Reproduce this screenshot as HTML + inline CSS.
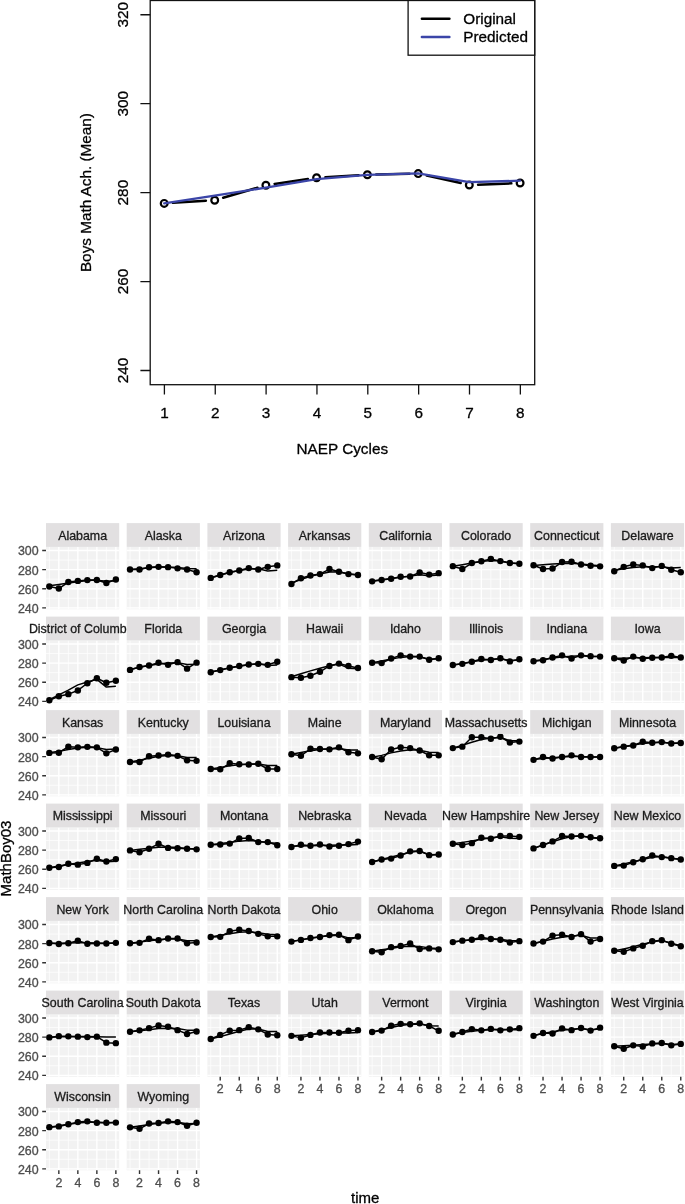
<!DOCTYPE html>
<html lang="en"><head><meta charset="utf-8"><title>NAEP Boys Math Achievement</title>
<style>html,body{margin:0;padding:0;background:#fff}svg{display:block}text{font-family:"Liberation Sans","Helvetica","Arial",sans-serif;paint-order:stroke;stroke-width:.3px;stroke-linejoin:round}</style>
</head><body>
<svg width="685" height="1204" viewBox="0 0 685 1204">
<rect width="685" height="1204" fill="#fff"/>
<g id="top-plot">
<path d="M172.98 202.84L205.92 200.76M223.15 197.73L257.45 187.67M274.61 183.91L307.89 178.99M325.39 177.2L358.61 175.3M376.2 174.59L409.4 173.81M426.79 175.52L460.71 183.08M478.09 184.65L511.31 183.35" fill="none" stroke="#000" stroke-width="2.5" stroke-linecap="round"/>
<circle cx="164.2" cy="203.4" r="3.4" fill="none" stroke="#000" stroke-width="2.2"/>
<circle cx="214.7" cy="200.2" r="3.4" fill="none" stroke="#000" stroke-width="2.2"/>
<circle cx="265.9" cy="185.2" r="3.4" fill="none" stroke="#000" stroke-width="2.2"/>
<circle cx="316.6" cy="177.7" r="3.4" fill="none" stroke="#000" stroke-width="2.2"/>
<circle cx="367.4" cy="174.8" r="3.4" fill="none" stroke="#000" stroke-width="2.2"/>
<circle cx="418.2" cy="173.6" r="3.4" fill="none" stroke="#000" stroke-width="2.2"/>
<circle cx="469.3" cy="185" r="3.4" fill="none" stroke="#000" stroke-width="2.2"/>
<circle cx="520.1" cy="183" r="3.4" fill="none" stroke="#000" stroke-width="2.2"/>
<polyline points="164.2,203.4 214.7,195.7 265.9,187.6 316.6,179.2 367.4,174.8 418.2,173.4 469.3,182.1 520.1,180.7" fill="none" stroke="#3b45a8" stroke-width="2.3" stroke-linecap="round" stroke-linejoin="round"/>
<rect x="150.2" y="0.5" width="384.5" height="384.2" fill="none" stroke="#111" stroke-width="1.3"/>
<path d="M150.2 370.5H140.4M150.2 281.56H140.4M150.2 192.62H140.4M150.2 103.68H140.4M150.2 14.74H140.4M164.4 384.7V394.5M215.25 384.7V394.5M266.1 384.7V394.5M316.95 384.7V394.5M367.8 384.7V394.5M418.65 384.7V394.5M469.5 384.7V394.5M520.35 384.7V394.5" fill="none" stroke="#111" stroke-width="1.3"/>
<text transform="translate(128.1 370.5) rotate(-90)" font-size="15.3" text-anchor="middle" fill="#000" stroke="#000">240</text>
<text transform="translate(128.1 281.56) rotate(-90)" font-size="15.3" text-anchor="middle" fill="#000" stroke="#000">260</text>
<text transform="translate(128.1 192.62) rotate(-90)" font-size="15.3" text-anchor="middle" fill="#000" stroke="#000">280</text>
<text transform="translate(128.1 103.68) rotate(-90)" font-size="15.3" text-anchor="middle" fill="#000" stroke="#000">300</text>
<text transform="translate(128.1 14.74) rotate(-90)" font-size="15.3" text-anchor="middle" fill="#000" stroke="#000">320</text>
<text x="164.4" y="417.8" font-size="15.3" text-anchor="middle" fill="#000" stroke="#000">1</text>
<text x="215.25" y="417.8" font-size="15.3" text-anchor="middle" fill="#000" stroke="#000">2</text>
<text x="266.1" y="417.8" font-size="15.3" text-anchor="middle" fill="#000" stroke="#000">3</text>
<text x="316.95" y="417.8" font-size="15.3" text-anchor="middle" fill="#000" stroke="#000">4</text>
<text x="367.8" y="417.8" font-size="15.3" text-anchor="middle" fill="#000" stroke="#000">5</text>
<text x="418.65" y="417.8" font-size="15.3" text-anchor="middle" fill="#000" stroke="#000">6</text>
<text x="469.5" y="417.8" font-size="15.3" text-anchor="middle" fill="#000" stroke="#000">7</text>
<text x="520.35" y="417.8" font-size="15.3" text-anchor="middle" fill="#000" stroke="#000">8</text>
<text x="342.3" y="454.2" font-size="15.3" text-anchor="middle" fill="#000" stroke="#000">NAEP Cycles</text>
<text transform="translate(91.2 192.6) rotate(-90)" font-size="15.3" text-anchor="middle" fill="#000" stroke="#000">Boys Math Ach. (Mean)</text>
<rect x="408.1" y="0.5" width="126.6" height="54.7" fill="#fff" stroke="#111" stroke-width="1.3"/>
<path d="M421.9 18.8H449.4" stroke="#000" stroke-width="2.5" stroke-linecap="round"/>
<path d="M421.9 37H449.4" stroke="#3b45a8" stroke-width="2.5" stroke-linecap="round"/>
<text x="463.3" y="24.2" font-size="15.3" fill="#000" stroke="#000">Original</text>
<text x="463.3" y="42.3" font-size="15.3" fill="#000" stroke="#000">Predicted</text>
</g>
<g id="facets">
<g>
<rect x="46" y="546.9" width="73.2" height="62.4" fill="#f2f2f2"/>
<path d="M46 598.27h73.2M46 579.16h73.2M46 560.05h73.2M49.33 546.9v62.4M68.34 546.9v62.4M87.35 546.9v62.4M106.37 546.9v62.4" stroke="#fff" stroke-width="0.7" fill="none"/>
<path d="M46 607.83h73.2M46 588.72h73.2M46 569.61h73.2M46 550.5h73.2M58.83 546.9v62.4M77.85 546.9v62.4M96.86 546.9v62.4M115.87 546.9v62.4" stroke="#fff" stroke-width="1.4" fill="none"/>
<polyline points="49.33,585.66 58.83,584.42 68.34,582.99 77.85,581.65 87.35,580.6 96.86,580.12 106.37,581.27 115.87,580.69" fill="none" stroke="#000" stroke-width="1.5" stroke-linejoin="round"/>
<polyline points="49.33,586.43 58.83,588.53 68.34,582.03 77.85,580.88 87.35,580.12 96.86,579.93 106.37,582.99 115.87,579.45" fill="none" stroke="#000" stroke-width="1.5" stroke-linejoin="round"/>
<circle cx="49.33" cy="586.43" r="3.2" fill="#000"/>
<circle cx="58.83" cy="588.53" r="3.2" fill="#000"/>
<circle cx="68.34" cy="582.03" r="3.2" fill="#000"/>
<circle cx="77.85" cy="580.88" r="3.2" fill="#000"/>
<circle cx="87.35" cy="580.12" r="3.2" fill="#000"/>
<circle cx="96.86" cy="579.93" r="3.2" fill="#000"/>
<circle cx="106.37" cy="582.99" r="3.2" fill="#000"/>
<circle cx="115.87" cy="579.45" r="3.2" fill="#000"/>
<rect x="46" y="523.1" width="73.2" height="23.8" fill="#e2e0e1"/>
<text x="82.6" y="539.9" font-size="12.4" text-anchor="middle" fill="#1a1a1a" stroke="#1a1a1a">Alabama</text>
<text x="38.6" y="612.73" font-size="12.4" text-anchor="end" fill="#4d4d4d" stroke="#4d4d4d">240</text>
<text x="38.6" y="593.62" font-size="12.4" text-anchor="end" fill="#4d4d4d" stroke="#4d4d4d">260</text>
<text x="38.6" y="574.51" font-size="12.4" text-anchor="end" fill="#4d4d4d" stroke="#4d4d4d">280</text>
<text x="38.6" y="555.4" font-size="12.4" text-anchor="end" fill="#4d4d4d" stroke="#4d4d4d">300</text>
<path d="M46 607.83h-3.8M46 588.72h-3.8M46 569.61h-3.8M46 550.5h-3.8" stroke="#333" stroke-width="1.4" fill="none"/>
</g>
<g>
<rect x="126.7" y="546.9" width="73.2" height="62.4" fill="#f2f2f2"/>
<path d="M126.7 598.27h73.2M126.7 579.16h73.2M126.7 560.05h73.2M130.03 546.9v62.4M149.04 546.9v62.4M168.05 546.9v62.4M187.07 546.9v62.4" stroke="#fff" stroke-width="0.7" fill="none"/>
<path d="M126.7 607.83h73.2M126.7 588.72h73.2M126.7 569.61h73.2M126.7 550.5h73.2M139.53 546.9v62.4M158.55 546.9v62.4M177.56 546.9v62.4M196.57 546.9v62.4" stroke="#fff" stroke-width="1.4" fill="none"/>
<polyline points="130.03,569.61 139.53,568.65 149.04,567.7 158.55,567.03 168.05,566.93 177.56,567.41 187.07,568.46 196.57,568.65" fill="none" stroke="#000" stroke-width="1.5" stroke-linejoin="round"/>
<polyline points="130.03,569.51 139.53,569.51 149.04,567.32 158.55,566.84 168.05,567.13 177.56,568.37 187.07,569.51 196.57,572.19" fill="none" stroke="#000" stroke-width="1.5" stroke-linejoin="round"/>
<circle cx="130.03" cy="569.51" r="3.2" fill="#000"/>
<circle cx="139.53" cy="569.51" r="3.2" fill="#000"/>
<circle cx="149.04" cy="567.32" r="3.2" fill="#000"/>
<circle cx="158.55" cy="566.84" r="3.2" fill="#000"/>
<circle cx="168.05" cy="567.13" r="3.2" fill="#000"/>
<circle cx="177.56" cy="568.37" r="3.2" fill="#000"/>
<circle cx="187.07" cy="569.51" r="3.2" fill="#000"/>
<circle cx="196.57" cy="572.19" r="3.2" fill="#000"/>
<rect x="126.7" y="523.1" width="73.2" height="23.8" fill="#e2e0e1"/>
<text x="163.3" y="539.9" font-size="12.4" text-anchor="middle" fill="#1a1a1a" stroke="#1a1a1a">Alaska</text>
</g>
<g>
<rect x="207.4" y="546.9" width="73.2" height="62.4" fill="#f2f2f2"/>
<path d="M207.4 598.27h73.2M207.4 579.16h73.2M207.4 560.05h73.2M210.73 546.9v62.4M229.74 546.9v62.4M248.75 546.9v62.4M267.77 546.9v62.4" stroke="#fff" stroke-width="0.7" fill="none"/>
<path d="M207.4 607.83h73.2M207.4 588.72h73.2M207.4 569.61h73.2M207.4 550.5h73.2M220.23 546.9v62.4M239.25 546.9v62.4M258.26 546.9v62.4M277.27 546.9v62.4" stroke="#fff" stroke-width="1.4" fill="none"/>
<polyline points="210.73,577.73 220.23,575.06 229.74,572.48 239.25,570.57 248.75,569.04 258.26,568.65 267.77,570.95 277.27,570.28" fill="none" stroke="#000" stroke-width="1.5" stroke-linejoin="round"/>
<polyline points="210.73,577.92 220.23,575.06 229.74,572.19 239.25,570.47 248.75,568.08 258.26,569.51 267.77,566.84 277.27,565.41" fill="none" stroke="#000" stroke-width="1.5" stroke-linejoin="round"/>
<circle cx="210.73" cy="577.92" r="3.2" fill="#000"/>
<circle cx="220.23" cy="575.06" r="3.2" fill="#000"/>
<circle cx="229.74" cy="572.19" r="3.2" fill="#000"/>
<circle cx="239.25" cy="570.47" r="3.2" fill="#000"/>
<circle cx="248.75" cy="568.08" r="3.2" fill="#000"/>
<circle cx="258.26" cy="569.51" r="3.2" fill="#000"/>
<circle cx="267.77" cy="566.84" r="3.2" fill="#000"/>
<circle cx="277.27" cy="565.41" r="3.2" fill="#000"/>
<rect x="207.4" y="523.1" width="73.2" height="23.8" fill="#e2e0e1"/>
<text x="244" y="539.9" font-size="12.4" text-anchor="middle" fill="#1a1a1a" stroke="#1a1a1a">Arizona</text>
</g>
<g>
<rect x="288.1" y="546.9" width="73.2" height="62.4" fill="#f2f2f2"/>
<path d="M288.1 598.27h73.2M288.1 579.16h73.2M288.1 560.05h73.2M291.43 546.9v62.4M310.44 546.9v62.4M329.45 546.9v62.4M348.47 546.9v62.4" stroke="#fff" stroke-width="0.7" fill="none"/>
<path d="M288.1 607.83h73.2M288.1 588.72h73.2M288.1 569.61h73.2M288.1 550.5h73.2M300.93 546.9v62.4M319.95 546.9v62.4M338.96 546.9v62.4M357.97 546.9v62.4" stroke="#fff" stroke-width="1.4" fill="none"/>
<polyline points="291.43,582.99 300.93,579.64 310.44,576.3 319.95,573.91 329.45,571.9 338.96,571.71 348.47,573.91 357.97,574.77" fill="none" stroke="#000" stroke-width="1.5" stroke-linejoin="round"/>
<polyline points="291.43,583.94 300.93,578.21 310.44,575.53 319.95,574.1 329.45,569.04 338.96,571.71 348.47,574.1 357.97,575.06" fill="none" stroke="#000" stroke-width="1.5" stroke-linejoin="round"/>
<circle cx="291.43" cy="583.94" r="3.2" fill="#000"/>
<circle cx="300.93" cy="578.21" r="3.2" fill="#000"/>
<circle cx="310.44" cy="575.53" r="3.2" fill="#000"/>
<circle cx="319.95" cy="574.1" r="3.2" fill="#000"/>
<circle cx="329.45" cy="569.04" r="3.2" fill="#000"/>
<circle cx="338.96" cy="571.71" r="3.2" fill="#000"/>
<circle cx="348.47" cy="574.1" r="3.2" fill="#000"/>
<circle cx="357.97" cy="575.06" r="3.2" fill="#000"/>
<rect x="288.1" y="523.1" width="73.2" height="23.8" fill="#e2e0e1"/>
<text x="324.7" y="539.9" font-size="12.4" text-anchor="middle" fill="#1a1a1a" stroke="#1a1a1a">Arkansas</text>
</g>
<g>
<rect x="368.8" y="546.9" width="73.2" height="62.4" fill="#f2f2f2"/>
<path d="M368.8 598.27h73.2M368.8 579.16h73.2M368.8 560.05h73.2M372.13 546.9v62.4M391.14 546.9v62.4M410.15 546.9v62.4M429.17 546.9v62.4" stroke="#fff" stroke-width="0.7" fill="none"/>
<path d="M368.8 607.83h73.2M368.8 588.72h73.2M368.8 569.61h73.2M368.8 550.5h73.2M381.63 546.9v62.4M400.65 546.9v62.4M419.66 546.9v62.4M438.67 546.9v62.4" stroke="#fff" stroke-width="1.4" fill="none"/>
<polyline points="372.13,581.08 381.63,579.83 391.14,578.59 400.65,577.25 410.15,575.92 419.66,574.77 429.17,575.82 438.67,575.06" fill="none" stroke="#000" stroke-width="1.5" stroke-linejoin="round"/>
<polyline points="372.13,581.36 381.63,579.93 391.14,578.69 400.65,576.78 410.15,576.49 419.66,572.38 429.17,574.58 438.67,573.15" fill="none" stroke="#000" stroke-width="1.5" stroke-linejoin="round"/>
<circle cx="372.13" cy="581.36" r="3.2" fill="#000"/>
<circle cx="381.63" cy="579.93" r="3.2" fill="#000"/>
<circle cx="391.14" cy="578.69" r="3.2" fill="#000"/>
<circle cx="400.65" cy="576.78" r="3.2" fill="#000"/>
<circle cx="410.15" cy="576.49" r="3.2" fill="#000"/>
<circle cx="419.66" cy="572.38" r="3.2" fill="#000"/>
<circle cx="429.17" cy="574.58" r="3.2" fill="#000"/>
<circle cx="438.67" cy="573.15" r="3.2" fill="#000"/>
<rect x="368.8" y="523.1" width="73.2" height="23.8" fill="#e2e0e1"/>
<text x="405.4" y="539.9" font-size="12.4" text-anchor="middle" fill="#1a1a1a" stroke="#1a1a1a">California</text>
</g>
<g>
<rect x="449.5" y="546.9" width="73.2" height="62.4" fill="#f2f2f2"/>
<path d="M449.5 598.27h73.2M449.5 579.16h73.2M449.5 560.05h73.2M452.83 546.9v62.4M471.84 546.9v62.4M490.85 546.9v62.4M509.87 546.9v62.4" stroke="#fff" stroke-width="0.7" fill="none"/>
<path d="M449.5 607.83h73.2M449.5 588.72h73.2M449.5 569.61h73.2M449.5 550.5h73.2M462.33 546.9v62.4M481.35 546.9v62.4M500.36 546.9v62.4M519.37 546.9v62.4" stroke="#fff" stroke-width="1.4" fill="none"/>
<polyline points="452.83,566.27 462.33,564.64 471.84,562.92 481.35,561.39 490.85,560.53 500.36,561.01 509.87,562.92 519.37,563.59" fill="none" stroke="#000" stroke-width="1.5" stroke-linejoin="round"/>
<polyline points="452.83,566.17 462.33,569.04 471.84,563.02 481.35,561.3 490.85,558.91 500.36,561.11 509.87,563.02 519.37,563.78" fill="none" stroke="#000" stroke-width="1.5" stroke-linejoin="round"/>
<circle cx="452.83" cy="566.17" r="3.2" fill="#000"/>
<circle cx="462.33" cy="569.04" r="3.2" fill="#000"/>
<circle cx="471.84" cy="563.02" r="3.2" fill="#000"/>
<circle cx="481.35" cy="561.3" r="3.2" fill="#000"/>
<circle cx="490.85" cy="558.91" r="3.2" fill="#000"/>
<circle cx="500.36" cy="561.11" r="3.2" fill="#000"/>
<circle cx="509.87" cy="563.02" r="3.2" fill="#000"/>
<circle cx="519.37" cy="563.78" r="3.2" fill="#000"/>
<rect x="449.5" y="523.1" width="73.2" height="23.8" fill="#e2e0e1"/>
<text x="486.1" y="539.9" font-size="12.4" text-anchor="middle" fill="#1a1a1a" stroke="#1a1a1a">Colorado</text>
</g>
<g>
<rect x="530.2" y="546.9" width="73.2" height="62.4" fill="#f2f2f2"/>
<path d="M530.2 598.27h73.2M530.2 579.16h73.2M530.2 560.05h73.2M533.53 546.9v62.4M552.54 546.9v62.4M571.55 546.9v62.4M590.57 546.9v62.4" stroke="#fff" stroke-width="0.7" fill="none"/>
<path d="M530.2 607.83h73.2M530.2 588.72h73.2M530.2 569.61h73.2M530.2 550.5h73.2M543.03 546.9v62.4M562.05 546.9v62.4M581.06 546.9v62.4M600.07 546.9v62.4" stroke="#fff" stroke-width="1.4" fill="none"/>
<polyline points="533.53,565.5 543.03,564.83 552.54,564.07 562.05,563.49 571.55,563.3 581.06,563.88 590.57,565.02 600.07,565.79" fill="none" stroke="#000" stroke-width="1.5" stroke-linejoin="round"/>
<polyline points="533.53,565.21 543.03,569.04 552.54,568.56 562.05,562.06 571.55,561.77 581.06,564.45 590.57,565.69 600.07,566.36" fill="none" stroke="#000" stroke-width="1.5" stroke-linejoin="round"/>
<circle cx="533.53" cy="565.21" r="3.2" fill="#000"/>
<circle cx="543.03" cy="569.04" r="3.2" fill="#000"/>
<circle cx="552.54" cy="568.56" r="3.2" fill="#000"/>
<circle cx="562.05" cy="562.06" r="3.2" fill="#000"/>
<circle cx="571.55" cy="561.77" r="3.2" fill="#000"/>
<circle cx="581.06" cy="564.45" r="3.2" fill="#000"/>
<circle cx="590.57" cy="565.69" r="3.2" fill="#000"/>
<circle cx="600.07" cy="566.36" r="3.2" fill="#000"/>
<rect x="530.2" y="523.1" width="73.2" height="23.8" fill="#e2e0e1"/>
<text x="566.8" y="539.9" font-size="12.4" text-anchor="middle" fill="#1a1a1a" stroke="#1a1a1a">Connecticut</text>
</g>
<g>
<rect x="610.9" y="546.9" width="73.2" height="62.4" fill="#f2f2f2"/>
<path d="M610.9 598.27h73.2M610.9 579.16h73.2M610.9 560.05h73.2M614.23 546.9v62.4M633.24 546.9v62.4M652.25 546.9v62.4M671.27 546.9v62.4" stroke="#fff" stroke-width="0.7" fill="none"/>
<path d="M610.9 607.83h73.2M610.9 588.72h73.2M610.9 569.61h73.2M610.9 550.5h73.2M623.73 546.9v62.4M642.75 546.9v62.4M661.76 546.9v62.4M680.77 546.9v62.4" stroke="#fff" stroke-width="1.4" fill="none"/>
<polyline points="614.23,570.28 623.73,568.65 633.24,567.6 642.75,566.84 652.25,566.65 661.76,566.84 671.27,568.08 680.77,567.6" fill="none" stroke="#000" stroke-width="1.5" stroke-linejoin="round"/>
<polyline points="614.23,571.23 623.73,566.84 633.24,564.45 642.75,565.41 652.25,568.08 661.76,565.88 671.27,569.8 680.77,572.19" fill="none" stroke="#000" stroke-width="1.5" stroke-linejoin="round"/>
<circle cx="614.23" cy="571.23" r="3.2" fill="#000"/>
<circle cx="623.73" cy="566.84" r="3.2" fill="#000"/>
<circle cx="633.24" cy="564.45" r="3.2" fill="#000"/>
<circle cx="642.75" cy="565.41" r="3.2" fill="#000"/>
<circle cx="652.25" cy="568.08" r="3.2" fill="#000"/>
<circle cx="661.76" cy="565.88" r="3.2" fill="#000"/>
<circle cx="671.27" cy="569.8" r="3.2" fill="#000"/>
<circle cx="680.77" cy="572.19" r="3.2" fill="#000"/>
<rect x="610.9" y="523.1" width="73.2" height="23.8" fill="#e2e0e1"/>
<text x="647.5" y="539.9" font-size="12.4" text-anchor="middle" fill="#1a1a1a" stroke="#1a1a1a">Delaware</text>
</g>
<g>
<rect x="46" y="640.4" width="73.2" height="62.4" fill="#f2f2f2"/>
<path d="M46 691.77h73.2M46 672.66h73.2M46 653.55h73.2M49.33 640.4v62.4M68.34 640.4v62.4M87.35 640.4v62.4M106.37 640.4v62.4" stroke="#fff" stroke-width="0.7" fill="none"/>
<path d="M46 701.33h73.2M46 682.22h73.2M46 663.11h73.2M46 644h73.2M58.83 640.4v62.4M77.85 640.4v62.4M96.86 640.4v62.4M115.87 640.4v62.4" stroke="#fff" stroke-width="1.4" fill="none"/>
<polyline points="49.33,699.61 58.83,694.83 68.34,690.15 77.85,684.9 87.35,681.93 96.86,679.35 106.37,687.09 115.87,686.23" fill="none" stroke="#000" stroke-width="1.5" stroke-linejoin="round"/>
<polyline points="49.33,700.28 58.83,696.27 68.34,694.16 77.85,690.44 87.35,683.27 96.86,678.21 106.37,682.79 115.87,680.69" fill="none" stroke="#000" stroke-width="1.5" stroke-linejoin="round"/>
<circle cx="49.33" cy="700.28" r="3.2" fill="#000"/>
<circle cx="58.83" cy="696.27" r="3.2" fill="#000"/>
<circle cx="68.34" cy="694.16" r="3.2" fill="#000"/>
<circle cx="77.85" cy="690.44" r="3.2" fill="#000"/>
<circle cx="87.35" cy="683.27" r="3.2" fill="#000"/>
<circle cx="96.86" cy="678.21" r="3.2" fill="#000"/>
<circle cx="106.37" cy="682.79" r="3.2" fill="#000"/>
<circle cx="115.87" cy="680.69" r="3.2" fill="#000"/>
<rect x="46" y="616.6" width="73.2" height="23.8" fill="#e2e0e1"/>
<text x="82.6" y="633.4" font-size="12.4" text-anchor="middle" fill="#1a1a1a" stroke="#1a1a1a">District of Columbia</text>
<text x="38.6" y="706.23" font-size="12.4" text-anchor="end" fill="#4d4d4d" stroke="#4d4d4d">240</text>
<text x="38.6" y="687.12" font-size="12.4" text-anchor="end" fill="#4d4d4d" stroke="#4d4d4d">260</text>
<text x="38.6" y="668.01" font-size="12.4" text-anchor="end" fill="#4d4d4d" stroke="#4d4d4d">280</text>
<text x="38.6" y="648.9" font-size="12.4" text-anchor="end" fill="#4d4d4d" stroke="#4d4d4d">300</text>
<path d="M46 701.33h-3.8M46 682.22h-3.8M46 663.11h-3.8M46 644h-3.8" stroke="#333" stroke-width="1.4" fill="none"/>
</g>
<g>
<rect x="126.7" y="640.4" width="73.2" height="62.4" fill="#f2f2f2"/>
<path d="M126.7 691.77h73.2M126.7 672.66h73.2M126.7 653.55h73.2M130.03 640.4v62.4M149.04 640.4v62.4M168.05 640.4v62.4M187.07 640.4v62.4" stroke="#fff" stroke-width="0.7" fill="none"/>
<path d="M126.7 701.33h73.2M126.7 682.22h73.2M126.7 663.11h73.2M126.7 644h73.2M139.53 640.4v62.4M158.55 640.4v62.4M177.56 640.4v62.4M196.57 640.4v62.4" stroke="#fff" stroke-width="1.4" fill="none"/>
<polyline points="130.03,669.42 139.53,667.22 149.04,665.5 158.55,664.07 168.05,663.11 177.56,662.63 187.07,664.54 196.57,664.35" fill="none" stroke="#000" stroke-width="1.5" stroke-linejoin="round"/>
<polyline points="130.03,669.89 139.53,667.03 149.04,665.5 158.55,662.82 168.05,664.83 177.56,662.15 187.07,668.65 196.57,662.63" fill="none" stroke="#000" stroke-width="1.5" stroke-linejoin="round"/>
<circle cx="130.03" cy="669.89" r="3.2" fill="#000"/>
<circle cx="139.53" cy="667.03" r="3.2" fill="#000"/>
<circle cx="149.04" cy="665.5" r="3.2" fill="#000"/>
<circle cx="158.55" cy="662.82" r="3.2" fill="#000"/>
<circle cx="168.05" cy="664.83" r="3.2" fill="#000"/>
<circle cx="177.56" cy="662.15" r="3.2" fill="#000"/>
<circle cx="187.07" cy="668.65" r="3.2" fill="#000"/>
<circle cx="196.57" cy="662.63" r="3.2" fill="#000"/>
<rect x="126.7" y="616.6" width="73.2" height="23.8" fill="#e2e0e1"/>
<text x="163.3" y="633.4" font-size="12.4" text-anchor="middle" fill="#1a1a1a" stroke="#1a1a1a">Florida</text>
</g>
<g>
<rect x="207.4" y="640.4" width="73.2" height="62.4" fill="#f2f2f2"/>
<path d="M207.4 691.77h73.2M207.4 672.66h73.2M207.4 653.55h73.2M210.73 640.4v62.4M229.74 640.4v62.4M248.75 640.4v62.4M267.77 640.4v62.4" stroke="#fff" stroke-width="0.7" fill="none"/>
<path d="M207.4 701.33h73.2M207.4 682.22h73.2M207.4 663.11h73.2M207.4 644h73.2M220.23 640.4v62.4M239.25 640.4v62.4M258.26 640.4v62.4M277.27 640.4v62.4" stroke="#fff" stroke-width="1.4" fill="none"/>
<polyline points="210.73,672.09 220.23,669.99 229.74,667.89 239.25,666.17 248.75,664.73 258.26,663.87 267.77,665.5 277.27,665.12" fill="none" stroke="#000" stroke-width="1.5" stroke-linejoin="round"/>
<polyline points="210.73,672.28 220.23,670.09 229.74,667.7 239.25,665.98 248.75,664.54 258.26,663.87 267.77,664.83 277.27,661.68" fill="none" stroke="#000" stroke-width="1.5" stroke-linejoin="round"/>
<circle cx="210.73" cy="672.28" r="3.2" fill="#000"/>
<circle cx="220.23" cy="670.09" r="3.2" fill="#000"/>
<circle cx="229.74" cy="667.7" r="3.2" fill="#000"/>
<circle cx="239.25" cy="665.98" r="3.2" fill="#000"/>
<circle cx="248.75" cy="664.54" r="3.2" fill="#000"/>
<circle cx="258.26" cy="663.87" r="3.2" fill="#000"/>
<circle cx="267.77" cy="664.83" r="3.2" fill="#000"/>
<circle cx="277.27" cy="661.68" r="3.2" fill="#000"/>
<rect x="207.4" y="616.6" width="73.2" height="23.8" fill="#e2e0e1"/>
<text x="244" y="633.4" font-size="12.4" text-anchor="middle" fill="#1a1a1a" stroke="#1a1a1a">Georgia</text>
</g>
<g>
<rect x="288.1" y="640.4" width="73.2" height="62.4" fill="#f2f2f2"/>
<path d="M288.1 691.77h73.2M288.1 672.66h73.2M288.1 653.55h73.2M291.43 640.4v62.4M310.44 640.4v62.4M329.45 640.4v62.4M348.47 640.4v62.4" stroke="#fff" stroke-width="0.7" fill="none"/>
<path d="M288.1 701.33h73.2M288.1 682.22h73.2M288.1 663.11h73.2M288.1 644h73.2M300.93 640.4v62.4M319.95 640.4v62.4M338.96 640.4v62.4M357.97 640.4v62.4" stroke="#fff" stroke-width="1.4" fill="none"/>
<polyline points="291.43,676.68 300.93,673.72 310.44,670.85 319.95,668.17 329.45,665.79 338.96,664.07 348.47,668.17 357.97,668.65" fill="none" stroke="#000" stroke-width="1.5" stroke-linejoin="round"/>
<polyline points="291.43,677.16 300.93,677.82 310.44,675.72 319.95,671.81 329.45,665.98 338.96,663.59 348.47,665.98 357.97,667.98" fill="none" stroke="#000" stroke-width="1.5" stroke-linejoin="round"/>
<circle cx="291.43" cy="677.16" r="3.2" fill="#000"/>
<circle cx="300.93" cy="677.82" r="3.2" fill="#000"/>
<circle cx="310.44" cy="675.72" r="3.2" fill="#000"/>
<circle cx="319.95" cy="671.81" r="3.2" fill="#000"/>
<circle cx="329.45" cy="665.98" r="3.2" fill="#000"/>
<circle cx="338.96" cy="663.59" r="3.2" fill="#000"/>
<circle cx="348.47" cy="665.98" r="3.2" fill="#000"/>
<circle cx="357.97" cy="667.98" r="3.2" fill="#000"/>
<rect x="288.1" y="616.6" width="73.2" height="23.8" fill="#e2e0e1"/>
<text x="324.7" y="633.4" font-size="12.4" text-anchor="middle" fill="#1a1a1a" stroke="#1a1a1a">Hawaii</text>
</g>
<g>
<rect x="368.8" y="640.4" width="73.2" height="62.4" fill="#f2f2f2"/>
<path d="M368.8 691.77h73.2M368.8 672.66h73.2M368.8 653.55h73.2M372.13 640.4v62.4M391.14 640.4v62.4M410.15 640.4v62.4M429.17 640.4v62.4" stroke="#fff" stroke-width="0.7" fill="none"/>
<path d="M368.8 701.33h73.2M368.8 682.22h73.2M368.8 663.11h73.2M368.8 644h73.2M381.63 640.4v62.4M400.65 640.4v62.4M419.66 640.4v62.4M438.67 640.4v62.4" stroke="#fff" stroke-width="1.4" fill="none"/>
<polyline points="372.13,662.63 381.63,660.91 391.14,659 400.65,657.38 410.15,656.61 419.66,656.8 429.17,659.29 438.67,658.81" fill="none" stroke="#000" stroke-width="1.5" stroke-linejoin="round"/>
<polyline points="372.13,662.82 381.63,663.11 391.14,658.52 400.65,655.37 410.15,656.61 419.66,656.61 429.17,659.77 438.67,658.24" fill="none" stroke="#000" stroke-width="1.5" stroke-linejoin="round"/>
<circle cx="372.13" cy="662.82" r="3.2" fill="#000"/>
<circle cx="381.63" cy="663.11" r="3.2" fill="#000"/>
<circle cx="391.14" cy="658.52" r="3.2" fill="#000"/>
<circle cx="400.65" cy="655.37" r="3.2" fill="#000"/>
<circle cx="410.15" cy="656.61" r="3.2" fill="#000"/>
<circle cx="419.66" cy="656.61" r="3.2" fill="#000"/>
<circle cx="429.17" cy="659.77" r="3.2" fill="#000"/>
<circle cx="438.67" cy="658.24" r="3.2" fill="#000"/>
<rect x="368.8" y="616.6" width="73.2" height="23.8" fill="#e2e0e1"/>
<text x="405.4" y="633.4" font-size="12.4" text-anchor="middle" fill="#1a1a1a" stroke="#1a1a1a">Idaho</text>
</g>
<g>
<rect x="449.5" y="640.4" width="73.2" height="62.4" fill="#f2f2f2"/>
<path d="M449.5 691.77h73.2M449.5 672.66h73.2M449.5 653.55h73.2M452.83 640.4v62.4M471.84 640.4v62.4M490.85 640.4v62.4M509.87 640.4v62.4" stroke="#fff" stroke-width="0.7" fill="none"/>
<path d="M449.5 701.33h73.2M449.5 682.22h73.2M449.5 663.11h73.2M449.5 644h73.2M462.33 640.4v62.4M481.35 640.4v62.4M500.36 640.4v62.4M519.37 640.4v62.4" stroke="#fff" stroke-width="1.4" fill="none"/>
<polyline points="452.83,665.02 462.33,663.4 471.84,661.68 481.35,660.24 490.85,659.29 500.36,658.81 509.87,660.43 519.37,659.96" fill="none" stroke="#000" stroke-width="1.5" stroke-linejoin="round"/>
<polyline points="452.83,665.02 462.33,663.87 471.84,661.68 481.35,659 490.85,659.96 500.36,658.24 509.87,661.39 519.37,659.19" fill="none" stroke="#000" stroke-width="1.5" stroke-linejoin="round"/>
<circle cx="452.83" cy="665.02" r="3.2" fill="#000"/>
<circle cx="462.33" cy="663.87" r="3.2" fill="#000"/>
<circle cx="471.84" cy="661.68" r="3.2" fill="#000"/>
<circle cx="481.35" cy="659" r="3.2" fill="#000"/>
<circle cx="490.85" cy="659.96" r="3.2" fill="#000"/>
<circle cx="500.36" cy="658.24" r="3.2" fill="#000"/>
<circle cx="509.87" cy="661.39" r="3.2" fill="#000"/>
<circle cx="519.37" cy="659.19" r="3.2" fill="#000"/>
<rect x="449.5" y="616.6" width="73.2" height="23.8" fill="#e2e0e1"/>
<text x="486.1" y="633.4" font-size="12.4" text-anchor="middle" fill="#1a1a1a" stroke="#1a1a1a">Illinois</text>
</g>
<g>
<rect x="530.2" y="640.4" width="73.2" height="62.4" fill="#f2f2f2"/>
<path d="M530.2 691.77h73.2M530.2 672.66h73.2M530.2 653.55h73.2M533.53 640.4v62.4M552.54 640.4v62.4M571.55 640.4v62.4M590.57 640.4v62.4" stroke="#fff" stroke-width="0.7" fill="none"/>
<path d="M530.2 701.33h73.2M530.2 682.22h73.2M530.2 663.11h73.2M530.2 644h73.2M543.03 640.4v62.4M562.05 640.4v62.4M581.06 640.4v62.4M600.07 640.4v62.4" stroke="#fff" stroke-width="1.4" fill="none"/>
<polyline points="533.53,660.91 543.03,659.48 552.54,658.05 562.05,656.9 571.55,656.13 581.06,655.66 590.57,656.42 600.07,656.42" fill="none" stroke="#000" stroke-width="1.5" stroke-linejoin="round"/>
<polyline points="533.53,661.2 543.03,660.24 552.54,657.57 562.05,655.37 571.55,658.52 581.06,655.37 590.57,656.13 600.07,656.61" fill="none" stroke="#000" stroke-width="1.5" stroke-linejoin="round"/>
<circle cx="533.53" cy="661.2" r="3.2" fill="#000"/>
<circle cx="543.03" cy="660.24" r="3.2" fill="#000"/>
<circle cx="552.54" cy="657.57" r="3.2" fill="#000"/>
<circle cx="562.05" cy="655.37" r="3.2" fill="#000"/>
<circle cx="571.55" cy="658.52" r="3.2" fill="#000"/>
<circle cx="581.06" cy="655.37" r="3.2" fill="#000"/>
<circle cx="590.57" cy="656.13" r="3.2" fill="#000"/>
<circle cx="600.07" cy="656.61" r="3.2" fill="#000"/>
<rect x="530.2" y="616.6" width="73.2" height="23.8" fill="#e2e0e1"/>
<text x="566.8" y="633.4" font-size="12.4" text-anchor="middle" fill="#1a1a1a" stroke="#1a1a1a">Indiana</text>
</g>
<g>
<rect x="610.9" y="640.4" width="73.2" height="62.4" fill="#f2f2f2"/>
<path d="M610.9 691.77h73.2M610.9 672.66h73.2M610.9 653.55h73.2M614.23 640.4v62.4M633.24 640.4v62.4M652.25 640.4v62.4M671.27 640.4v62.4" stroke="#fff" stroke-width="0.7" fill="none"/>
<path d="M610.9 701.33h73.2M610.9 682.22h73.2M610.9 663.11h73.2M610.9 644h73.2M623.73 640.4v62.4M642.75 640.4v62.4M661.76 640.4v62.4M680.77 640.4v62.4" stroke="#fff" stroke-width="1.4" fill="none"/>
<polyline points="614.23,658.33 623.73,658.14 633.24,657.85 642.75,657.66 652.25,657.38 661.76,657.19 671.27,657.38 680.77,657.38" fill="none" stroke="#000" stroke-width="1.5" stroke-linejoin="round"/>
<polyline points="614.23,658.24 623.73,660.43 633.24,656.61 642.75,658.71 652.25,657.76 661.76,657.57 671.27,655.85 680.77,657.57" fill="none" stroke="#000" stroke-width="1.5" stroke-linejoin="round"/>
<circle cx="614.23" cy="658.24" r="3.2" fill="#000"/>
<circle cx="623.73" cy="660.43" r="3.2" fill="#000"/>
<circle cx="633.24" cy="656.61" r="3.2" fill="#000"/>
<circle cx="642.75" cy="658.71" r="3.2" fill="#000"/>
<circle cx="652.25" cy="657.76" r="3.2" fill="#000"/>
<circle cx="661.76" cy="657.57" r="3.2" fill="#000"/>
<circle cx="671.27" cy="655.85" r="3.2" fill="#000"/>
<circle cx="680.77" cy="657.57" r="3.2" fill="#000"/>
<rect x="610.9" y="616.6" width="73.2" height="23.8" fill="#e2e0e1"/>
<text x="647.5" y="633.4" font-size="12.4" text-anchor="middle" fill="#1a1a1a" stroke="#1a1a1a">Iowa</text>
</g>
<g>
<rect x="46" y="733.9" width="73.2" height="62.4" fill="#f2f2f2"/>
<path d="M46 785.27h73.2M46 766.16h73.2M46 747.05h73.2M49.33 733.9v62.4M68.34 733.9v62.4M87.35 733.9v62.4M106.37 733.9v62.4" stroke="#fff" stroke-width="0.7" fill="none"/>
<path d="M46 794.83h73.2M46 775.72h73.2M46 756.61h73.2M46 737.5h73.2M58.83 733.9v62.4M77.85 733.9v62.4M96.86 733.9v62.4M115.87 733.9v62.4" stroke="#fff" stroke-width="1.4" fill="none"/>
<polyline points="49.33,752.79 58.83,751.16 68.34,749.54 77.85,748.11 87.35,747.34 96.86,747.63 106.37,749.54 115.87,749.06" fill="none" stroke="#000" stroke-width="1.5" stroke-linejoin="round"/>
<polyline points="49.33,752.88 58.83,752.69 68.34,746.67 77.85,747.34 87.35,746.86 96.86,747.34 106.37,753.36 115.87,749.54" fill="none" stroke="#000" stroke-width="1.5" stroke-linejoin="round"/>
<circle cx="49.33" cy="752.88" r="3.2" fill="#000"/>
<circle cx="58.83" cy="752.69" r="3.2" fill="#000"/>
<circle cx="68.34" cy="746.67" r="3.2" fill="#000"/>
<circle cx="77.85" cy="747.34" r="3.2" fill="#000"/>
<circle cx="87.35" cy="746.86" r="3.2" fill="#000"/>
<circle cx="96.86" cy="747.34" r="3.2" fill="#000"/>
<circle cx="106.37" cy="753.36" r="3.2" fill="#000"/>
<circle cx="115.87" cy="749.54" r="3.2" fill="#000"/>
<rect x="46" y="710.1" width="73.2" height="23.8" fill="#e2e0e1"/>
<text x="82.6" y="726.9" font-size="12.4" text-anchor="middle" fill="#1a1a1a" stroke="#1a1a1a">Kansas</text>
<text x="38.6" y="799.73" font-size="12.4" text-anchor="end" fill="#4d4d4d" stroke="#4d4d4d">240</text>
<text x="38.6" y="780.62" font-size="12.4" text-anchor="end" fill="#4d4d4d" stroke="#4d4d4d">260</text>
<text x="38.6" y="761.51" font-size="12.4" text-anchor="end" fill="#4d4d4d" stroke="#4d4d4d">280</text>
<text x="38.6" y="742.4" font-size="12.4" text-anchor="end" fill="#4d4d4d" stroke="#4d4d4d">300</text>
<path d="M46 794.83h-3.8M46 775.72h-3.8M46 756.61h-3.8M46 737.5h-3.8" stroke="#333" stroke-width="1.4" fill="none"/>
</g>
<g>
<rect x="126.7" y="733.9" width="73.2" height="62.4" fill="#f2f2f2"/>
<path d="M126.7 785.27h73.2M126.7 766.16h73.2M126.7 747.05h73.2M130.03 733.9v62.4M149.04 733.9v62.4M168.05 733.9v62.4M187.07 733.9v62.4" stroke="#fff" stroke-width="0.7" fill="none"/>
<path d="M126.7 794.83h73.2M126.7 775.72h73.2M126.7 756.61h73.2M126.7 737.5h73.2M139.53 733.9v62.4M158.55 733.9v62.4M177.56 733.9v62.4M196.57 733.9v62.4" stroke="#fff" stroke-width="1.4" fill="none"/>
<polyline points="130.03,762.06 139.53,760.15 149.04,758.23 158.55,756.32 168.05,755.56 177.56,755.85 187.07,757.47 196.57,757.47" fill="none" stroke="#000" stroke-width="1.5" stroke-linejoin="round"/>
<polyline points="130.03,762.06 139.53,762.06 149.04,756.32 158.55,755.56 168.05,754.6 177.56,755.85 187.07,760.34 196.57,760.91" fill="none" stroke="#000" stroke-width="1.5" stroke-linejoin="round"/>
<circle cx="130.03" cy="762.06" r="3.2" fill="#000"/>
<circle cx="139.53" cy="762.06" r="3.2" fill="#000"/>
<circle cx="149.04" cy="756.32" r="3.2" fill="#000"/>
<circle cx="158.55" cy="755.56" r="3.2" fill="#000"/>
<circle cx="168.05" cy="754.6" r="3.2" fill="#000"/>
<circle cx="177.56" cy="755.85" r="3.2" fill="#000"/>
<circle cx="187.07" cy="760.34" r="3.2" fill="#000"/>
<circle cx="196.57" cy="760.91" r="3.2" fill="#000"/>
<rect x="126.7" y="710.1" width="73.2" height="23.8" fill="#e2e0e1"/>
<text x="163.3" y="726.9" font-size="12.4" text-anchor="middle" fill="#1a1a1a" stroke="#1a1a1a">Kentucky</text>
</g>
<g>
<rect x="207.4" y="733.9" width="73.2" height="62.4" fill="#f2f2f2"/>
<path d="M207.4 785.27h73.2M207.4 766.16h73.2M207.4 747.05h73.2M210.73 733.9v62.4M229.74 733.9v62.4M248.75 733.9v62.4M267.77 733.9v62.4" stroke="#fff" stroke-width="0.7" fill="none"/>
<path d="M207.4 794.83h73.2M207.4 775.72h73.2M207.4 756.61h73.2M207.4 737.5h73.2M220.23 733.9v62.4M239.25 733.9v62.4M258.26 733.9v62.4M277.27 733.9v62.4" stroke="#fff" stroke-width="1.4" fill="none"/>
<polyline points="210.73,769.03 220.23,767.41 229.74,765.88 239.25,764.73 248.75,763.97 258.26,763.97 267.77,765.4 277.27,765.4" fill="none" stroke="#000" stroke-width="1.5" stroke-linejoin="round"/>
<polyline points="210.73,769.03 220.23,769.32 229.74,763.3 239.25,764.25 248.75,764.45 258.26,763.78 267.77,769.03 277.27,769.03" fill="none" stroke="#000" stroke-width="1.5" stroke-linejoin="round"/>
<circle cx="210.73" cy="769.03" r="3.2" fill="#000"/>
<circle cx="220.23" cy="769.32" r="3.2" fill="#000"/>
<circle cx="229.74" cy="763.3" r="3.2" fill="#000"/>
<circle cx="239.25" cy="764.25" r="3.2" fill="#000"/>
<circle cx="248.75" cy="764.45" r="3.2" fill="#000"/>
<circle cx="258.26" cy="763.78" r="3.2" fill="#000"/>
<circle cx="267.77" cy="769.03" r="3.2" fill="#000"/>
<circle cx="277.27" cy="769.03" r="3.2" fill="#000"/>
<rect x="207.4" y="710.1" width="73.2" height="23.8" fill="#e2e0e1"/>
<text x="244" y="726.9" font-size="12.4" text-anchor="middle" fill="#1a1a1a" stroke="#1a1a1a">Louisiana</text>
</g>
<g>
<rect x="288.1" y="733.9" width="73.2" height="62.4" fill="#f2f2f2"/>
<path d="M288.1 785.27h73.2M288.1 766.16h73.2M288.1 747.05h73.2M291.43 733.9v62.4M310.44 733.9v62.4M329.45 733.9v62.4M348.47 733.9v62.4" stroke="#fff" stroke-width="0.7" fill="none"/>
<path d="M288.1 794.83h73.2M288.1 775.72h73.2M288.1 756.61h73.2M288.1 737.5h73.2M300.93 733.9v62.4M319.95 733.9v62.4M338.96 733.9v62.4M357.97 733.9v62.4" stroke="#fff" stroke-width="1.4" fill="none"/>
<polyline points="291.43,754.32 300.93,752.41 310.44,750.78 319.95,749.54 329.45,748.77 338.96,748.58 348.47,750.02 357.97,750.02" fill="none" stroke="#000" stroke-width="1.5" stroke-linejoin="round"/>
<polyline points="291.43,754.32 300.93,755.85 310.44,748.77 319.95,749.06 329.45,749.35 338.96,747.34 348.47,752.21 357.97,753.36" fill="none" stroke="#000" stroke-width="1.5" stroke-linejoin="round"/>
<circle cx="291.43" cy="754.32" r="3.2" fill="#000"/>
<circle cx="300.93" cy="755.85" r="3.2" fill="#000"/>
<circle cx="310.44" cy="748.77" r="3.2" fill="#000"/>
<circle cx="319.95" cy="749.06" r="3.2" fill="#000"/>
<circle cx="329.45" cy="749.35" r="3.2" fill="#000"/>
<circle cx="338.96" cy="747.34" r="3.2" fill="#000"/>
<circle cx="348.47" cy="752.21" r="3.2" fill="#000"/>
<circle cx="357.97" cy="753.36" r="3.2" fill="#000"/>
<rect x="288.1" y="710.1" width="73.2" height="23.8" fill="#e2e0e1"/>
<text x="324.7" y="726.9" font-size="12.4" text-anchor="middle" fill="#1a1a1a" stroke="#1a1a1a">Maine</text>
</g>
<g>
<rect x="368.8" y="733.9" width="73.2" height="62.4" fill="#f2f2f2"/>
<path d="M368.8 785.27h73.2M368.8 766.16h73.2M368.8 747.05h73.2M372.13 733.9v62.4M391.14 733.9v62.4M410.15 733.9v62.4M429.17 733.9v62.4" stroke="#fff" stroke-width="0.7" fill="none"/>
<path d="M368.8 794.83h73.2M368.8 775.72h73.2M368.8 756.61h73.2M368.8 737.5h73.2M381.63 733.9v62.4M400.65 733.9v62.4M419.66 733.9v62.4M438.67 733.9v62.4" stroke="#fff" stroke-width="1.4" fill="none"/>
<polyline points="372.13,757.28 381.63,755.37 391.14,752.88 400.65,750.97 410.15,749.83 419.66,750.3 429.17,752.21 438.67,752.41" fill="none" stroke="#000" stroke-width="1.5" stroke-linejoin="round"/>
<polyline points="372.13,756.99 381.63,759.19 391.14,749.54 400.65,747.34 410.15,748.11 419.66,750.49 429.17,755.37 438.67,755.37" fill="none" stroke="#000" stroke-width="1.5" stroke-linejoin="round"/>
<circle cx="372.13" cy="756.99" r="3.2" fill="#000"/>
<circle cx="381.63" cy="759.19" r="3.2" fill="#000"/>
<circle cx="391.14" cy="749.54" r="3.2" fill="#000"/>
<circle cx="400.65" cy="747.34" r="3.2" fill="#000"/>
<circle cx="410.15" cy="748.11" r="3.2" fill="#000"/>
<circle cx="419.66" cy="750.49" r="3.2" fill="#000"/>
<circle cx="429.17" cy="755.37" r="3.2" fill="#000"/>
<circle cx="438.67" cy="755.37" r="3.2" fill="#000"/>
<rect x="368.8" y="710.1" width="73.2" height="23.8" fill="#e2e0e1"/>
<text x="405.4" y="726.9" font-size="12.4" text-anchor="middle" fill="#1a1a1a" stroke="#1a1a1a">Maryland</text>
</g>
<g>
<rect x="449.5" y="733.9" width="73.2" height="62.4" fill="#f2f2f2"/>
<path d="M449.5 785.27h73.2M449.5 766.16h73.2M449.5 747.05h73.2M452.83 733.9v62.4M471.84 733.9v62.4M490.85 733.9v62.4M509.87 733.9v62.4" stroke="#fff" stroke-width="0.7" fill="none"/>
<path d="M449.5 794.83h73.2M449.5 775.72h73.2M449.5 756.61h73.2M449.5 737.5h73.2M462.33 733.9v62.4M481.35 733.9v62.4M500.36 733.9v62.4M519.37 733.9v62.4" stroke="#fff" stroke-width="1.4" fill="none"/>
<polyline points="452.83,748.11 462.33,745.24 471.84,742.28 481.35,739.41 490.85,737.98 500.36,737.5 509.87,740.84 519.37,740.84" fill="none" stroke="#000" stroke-width="1.5" stroke-linejoin="round"/>
<polyline points="452.83,748.11 462.33,746.67 471.84,737.21 481.35,737.21 490.85,738.74 500.36,736.74 509.87,742.56 519.37,741.61" fill="none" stroke="#000" stroke-width="1.5" stroke-linejoin="round"/>
<circle cx="452.83" cy="748.11" r="3.2" fill="#000"/>
<circle cx="462.33" cy="746.67" r="3.2" fill="#000"/>
<circle cx="471.84" cy="737.21" r="3.2" fill="#000"/>
<circle cx="481.35" cy="737.21" r="3.2" fill="#000"/>
<circle cx="490.85" cy="738.74" r="3.2" fill="#000"/>
<circle cx="500.36" cy="736.74" r="3.2" fill="#000"/>
<circle cx="509.87" cy="742.56" r="3.2" fill="#000"/>
<circle cx="519.37" cy="741.61" r="3.2" fill="#000"/>
<rect x="449.5" y="710.1" width="73.2" height="23.8" fill="#e2e0e1"/>
<text x="486.1" y="726.9" font-size="12.4" text-anchor="middle" fill="#1a1a1a" stroke="#1a1a1a">Massachusetts</text>
</g>
<g>
<rect x="530.2" y="733.9" width="73.2" height="62.4" fill="#f2f2f2"/>
<path d="M530.2 785.27h73.2M530.2 766.16h73.2M530.2 747.05h73.2M533.53 733.9v62.4M552.54 733.9v62.4M571.55 733.9v62.4M590.57 733.9v62.4" stroke="#fff" stroke-width="0.7" fill="none"/>
<path d="M530.2 794.83h73.2M530.2 775.72h73.2M530.2 756.61h73.2M530.2 737.5h73.2M543.03 733.9v62.4M562.05 733.9v62.4M581.06 733.9v62.4M600.07 733.9v62.4" stroke="#fff" stroke-width="1.4" fill="none"/>
<polyline points="533.53,759.48 543.03,758.52 552.54,757.76 562.05,757.09 571.55,756.61 581.06,756.61 590.57,756.99 600.07,756.99" fill="none" stroke="#000" stroke-width="1.5" stroke-linejoin="round"/>
<polyline points="533.53,759.86 543.03,756.99 552.54,758.43 562.05,756.99 571.55,755.37 581.06,756.99 590.57,756.99 600.07,756.99" fill="none" stroke="#000" stroke-width="1.5" stroke-linejoin="round"/>
<circle cx="533.53" cy="759.86" r="3.2" fill="#000"/>
<circle cx="543.03" cy="756.99" r="3.2" fill="#000"/>
<circle cx="552.54" cy="758.43" r="3.2" fill="#000"/>
<circle cx="562.05" cy="756.99" r="3.2" fill="#000"/>
<circle cx="571.55" cy="755.37" r="3.2" fill="#000"/>
<circle cx="581.06" cy="756.99" r="3.2" fill="#000"/>
<circle cx="590.57" cy="756.99" r="3.2" fill="#000"/>
<circle cx="600.07" cy="756.99" r="3.2" fill="#000"/>
<rect x="530.2" y="710.1" width="73.2" height="23.8" fill="#e2e0e1"/>
<text x="566.8" y="726.9" font-size="12.4" text-anchor="middle" fill="#1a1a1a" stroke="#1a1a1a">Michigan</text>
</g>
<g>
<rect x="610.9" y="733.9" width="73.2" height="62.4" fill="#f2f2f2"/>
<path d="M610.9 785.27h73.2M610.9 766.16h73.2M610.9 747.05h73.2M614.23 733.9v62.4M633.24 733.9v62.4M652.25 733.9v62.4M671.27 733.9v62.4" stroke="#fff" stroke-width="0.7" fill="none"/>
<path d="M610.9 794.83h73.2M610.9 775.72h73.2M610.9 756.61h73.2M610.9 737.5h73.2M623.73 733.9v62.4M642.75 733.9v62.4M661.76 733.9v62.4M680.77 733.9v62.4" stroke="#fff" stroke-width="1.4" fill="none"/>
<polyline points="614.23,748.3 623.73,746.58 633.24,744.95 642.75,743.52 652.25,742.66 661.76,742.28 671.27,743.23 680.77,743.04" fill="none" stroke="#000" stroke-width="1.5" stroke-linejoin="round"/>
<polyline points="614.23,748.3 623.73,746.67 633.24,745.43 642.75,741.8 652.25,742.76 661.76,742.09 671.27,743.52 680.77,743.04" fill="none" stroke="#000" stroke-width="1.5" stroke-linejoin="round"/>
<circle cx="614.23" cy="748.3" r="3.2" fill="#000"/>
<circle cx="623.73" cy="746.67" r="3.2" fill="#000"/>
<circle cx="633.24" cy="745.43" r="3.2" fill="#000"/>
<circle cx="642.75" cy="741.8" r="3.2" fill="#000"/>
<circle cx="652.25" cy="742.76" r="3.2" fill="#000"/>
<circle cx="661.76" cy="742.09" r="3.2" fill="#000"/>
<circle cx="671.27" cy="743.52" r="3.2" fill="#000"/>
<circle cx="680.77" cy="743.04" r="3.2" fill="#000"/>
<rect x="610.9" y="710.1" width="73.2" height="23.8" fill="#e2e0e1"/>
<text x="647.5" y="726.9" font-size="12.4" text-anchor="middle" fill="#1a1a1a" stroke="#1a1a1a">Minnesota</text>
</g>
<g>
<rect x="46" y="827.4" width="73.2" height="62.4" fill="#f2f2f2"/>
<path d="M46 878.77h73.2M46 859.66h73.2M46 840.55h73.2M49.33 827.4v62.4M68.34 827.4v62.4M87.35 827.4v62.4M106.37 827.4v62.4" stroke="#fff" stroke-width="0.7" fill="none"/>
<path d="M46 888.33h73.2M46 869.22h73.2M46 850.11h73.2M46 831h73.2M58.83 827.4v62.4M77.85 827.4v62.4M96.86 827.4v62.4M115.87 827.4v62.4" stroke="#fff" stroke-width="1.4" fill="none"/>
<polyline points="49.33,867.79 58.83,866.07 68.34,864.44 77.85,862.91 87.35,861.48 96.86,860.24 106.37,861.77 115.87,861.19" fill="none" stroke="#000" stroke-width="1.5" stroke-linejoin="round"/>
<polyline points="49.33,867.79 58.83,867.02 68.34,863.68 77.85,864.63 87.35,862.91 96.86,858.81 106.37,861.48 115.87,859.09" fill="none" stroke="#000" stroke-width="1.5" stroke-linejoin="round"/>
<circle cx="49.33" cy="867.79" r="3.2" fill="#000"/>
<circle cx="58.83" cy="867.02" r="3.2" fill="#000"/>
<circle cx="68.34" cy="863.68" r="3.2" fill="#000"/>
<circle cx="77.85" cy="864.63" r="3.2" fill="#000"/>
<circle cx="87.35" cy="862.91" r="3.2" fill="#000"/>
<circle cx="96.86" cy="858.81" r="3.2" fill="#000"/>
<circle cx="106.37" cy="861.48" r="3.2" fill="#000"/>
<circle cx="115.87" cy="859.09" r="3.2" fill="#000"/>
<rect x="46" y="803.6" width="73.2" height="23.8" fill="#e2e0e1"/>
<text x="82.6" y="820.4" font-size="12.4" text-anchor="middle" fill="#1a1a1a" stroke="#1a1a1a">Mississippi</text>
<text x="38.6" y="893.23" font-size="12.4" text-anchor="end" fill="#4d4d4d" stroke="#4d4d4d">240</text>
<text x="38.6" y="874.12" font-size="12.4" text-anchor="end" fill="#4d4d4d" stroke="#4d4d4d">260</text>
<text x="38.6" y="855.01" font-size="12.4" text-anchor="end" fill="#4d4d4d" stroke="#4d4d4d">280</text>
<text x="38.6" y="835.9" font-size="12.4" text-anchor="end" fill="#4d4d4d" stroke="#4d4d4d">300</text>
<path d="M46 888.33h-3.8M46 869.22h-3.8M46 850.11h-3.8M46 831h-3.8" stroke="#333" stroke-width="1.4" fill="none"/>
</g>
<g>
<rect x="126.7" y="827.4" width="73.2" height="62.4" fill="#f2f2f2"/>
<path d="M126.7 878.77h73.2M126.7 859.66h73.2M126.7 840.55h73.2M130.03 827.4v62.4M149.04 827.4v62.4M168.05 827.4v62.4M187.07 827.4v62.4" stroke="#fff" stroke-width="0.7" fill="none"/>
<path d="M126.7 888.33h73.2M126.7 869.22h73.2M126.7 850.11h73.2M126.7 831h73.2M139.53 827.4v62.4M158.55 827.4v62.4M177.56 827.4v62.4M196.57 827.4v62.4" stroke="#fff" stroke-width="1.4" fill="none"/>
<polyline points="130.03,850.4 139.53,849.15 149.04,848.2 158.55,847.24 168.05,846.96 177.56,847.43 187.07,848.39 196.57,848.68" fill="none" stroke="#000" stroke-width="1.5" stroke-linejoin="round"/>
<polyline points="130.03,850.4 139.53,852.31 149.04,848.68 158.55,843.8 168.05,847.91 177.56,848.2 187.07,848.68 196.57,849.35" fill="none" stroke="#000" stroke-width="1.5" stroke-linejoin="round"/>
<circle cx="130.03" cy="850.4" r="3.2" fill="#000"/>
<circle cx="139.53" cy="852.31" r="3.2" fill="#000"/>
<circle cx="149.04" cy="848.68" r="3.2" fill="#000"/>
<circle cx="158.55" cy="843.8" r="3.2" fill="#000"/>
<circle cx="168.05" cy="847.91" r="3.2" fill="#000"/>
<circle cx="177.56" cy="848.2" r="3.2" fill="#000"/>
<circle cx="187.07" cy="848.68" r="3.2" fill="#000"/>
<circle cx="196.57" cy="849.35" r="3.2" fill="#000"/>
<rect x="126.7" y="803.6" width="73.2" height="23.8" fill="#e2e0e1"/>
<text x="163.3" y="820.4" font-size="12.4" text-anchor="middle" fill="#1a1a1a" stroke="#1a1a1a">Missouri</text>
</g>
<g>
<rect x="207.4" y="827.4" width="73.2" height="62.4" fill="#f2f2f2"/>
<path d="M207.4 878.77h73.2M207.4 859.66h73.2M207.4 840.55h73.2M210.73 827.4v62.4M229.74 827.4v62.4M248.75 827.4v62.4M267.77 827.4v62.4" stroke="#fff" stroke-width="0.7" fill="none"/>
<path d="M207.4 888.33h73.2M207.4 869.22h73.2M207.4 850.11h73.2M207.4 831h73.2M220.23 827.4v62.4M239.25 827.4v62.4M258.26 827.4v62.4M277.27 827.4v62.4" stroke="#fff" stroke-width="1.4" fill="none"/>
<polyline points="210.73,844.76 220.23,843.61 229.74,842.47 239.25,841.13 248.75,840.46 258.26,841.13 267.77,842.66 277.27,843.13" fill="none" stroke="#000" stroke-width="1.5" stroke-linejoin="round"/>
<polyline points="210.73,844.76 220.23,844.57 229.74,843.61 239.25,838.45 248.75,837.98 258.26,842.08 267.77,842.08 277.27,845.24" fill="none" stroke="#000" stroke-width="1.5" stroke-linejoin="round"/>
<circle cx="210.73" cy="844.76" r="3.2" fill="#000"/>
<circle cx="220.23" cy="844.57" r="3.2" fill="#000"/>
<circle cx="229.74" cy="843.61" r="3.2" fill="#000"/>
<circle cx="239.25" cy="838.45" r="3.2" fill="#000"/>
<circle cx="248.75" cy="837.98" r="3.2" fill="#000"/>
<circle cx="258.26" cy="842.08" r="3.2" fill="#000"/>
<circle cx="267.77" cy="842.08" r="3.2" fill="#000"/>
<circle cx="277.27" cy="845.24" r="3.2" fill="#000"/>
<rect x="207.4" y="803.6" width="73.2" height="23.8" fill="#e2e0e1"/>
<text x="244" y="820.4" font-size="12.4" text-anchor="middle" fill="#1a1a1a" stroke="#1a1a1a">Montana</text>
</g>
<g>
<rect x="288.1" y="827.4" width="73.2" height="62.4" fill="#f2f2f2"/>
<path d="M288.1 878.77h73.2M288.1 859.66h73.2M288.1 840.55h73.2M291.43 827.4v62.4M310.44 827.4v62.4M329.45 827.4v62.4M348.47 827.4v62.4" stroke="#fff" stroke-width="0.7" fill="none"/>
<path d="M288.1 888.33h73.2M288.1 869.22h73.2M288.1 850.11h73.2M288.1 831h73.2M300.93 827.4v62.4M319.95 827.4v62.4M338.96 827.4v62.4M357.97 827.4v62.4" stroke="#fff" stroke-width="1.4" fill="none"/>
<polyline points="291.43,846.29 300.93,846 310.44,845.71 319.95,845.43 329.45,845.24 338.96,845.05 348.47,845.05 357.97,844.38" fill="none" stroke="#000" stroke-width="1.5" stroke-linejoin="round"/>
<polyline points="291.43,846.96 300.93,844.76 310.44,845.71 319.95,844.57 329.45,846.48 338.96,845.71 348.47,844.09 357.97,841.61" fill="none" stroke="#000" stroke-width="1.5" stroke-linejoin="round"/>
<circle cx="291.43" cy="846.96" r="3.2" fill="#000"/>
<circle cx="300.93" cy="844.76" r="3.2" fill="#000"/>
<circle cx="310.44" cy="845.71" r="3.2" fill="#000"/>
<circle cx="319.95" cy="844.57" r="3.2" fill="#000"/>
<circle cx="329.45" cy="846.48" r="3.2" fill="#000"/>
<circle cx="338.96" cy="845.71" r="3.2" fill="#000"/>
<circle cx="348.47" cy="844.09" r="3.2" fill="#000"/>
<circle cx="357.97" cy="841.61" r="3.2" fill="#000"/>
<rect x="288.1" y="803.6" width="73.2" height="23.8" fill="#e2e0e1"/>
<text x="324.7" y="820.4" font-size="12.4" text-anchor="middle" fill="#1a1a1a" stroke="#1a1a1a">Nebraska</text>
</g>
<g>
<rect x="368.8" y="827.4" width="73.2" height="62.4" fill="#f2f2f2"/>
<path d="M368.8 878.77h73.2M368.8 859.66h73.2M368.8 840.55h73.2M372.13 827.4v62.4M391.14 827.4v62.4M410.15 827.4v62.4M429.17 827.4v62.4" stroke="#fff" stroke-width="0.7" fill="none"/>
<path d="M368.8 888.33h73.2M368.8 869.22h73.2M368.8 850.11h73.2M368.8 831h73.2M381.63 827.4v62.4M400.65 827.4v62.4M419.66 827.4v62.4M438.67 827.4v62.4" stroke="#fff" stroke-width="1.4" fill="none"/>
<polyline points="372.13,861.96 381.63,859.57 391.14,857.09 400.65,854.7 410.15,852.31 419.66,851.07 429.17,854.7 438.67,854.51" fill="none" stroke="#000" stroke-width="1.5" stroke-linejoin="round"/>
<polyline points="372.13,861.96 381.63,859.57 391.14,858.61 400.65,855.46 410.15,851.35 419.66,851.07 429.17,855.17 438.67,854.51" fill="none" stroke="#000" stroke-width="1.5" stroke-linejoin="round"/>
<circle cx="372.13" cy="861.96" r="3.2" fill="#000"/>
<circle cx="381.63" cy="859.57" r="3.2" fill="#000"/>
<circle cx="391.14" cy="858.61" r="3.2" fill="#000"/>
<circle cx="400.65" cy="855.46" r="3.2" fill="#000"/>
<circle cx="410.15" cy="851.35" r="3.2" fill="#000"/>
<circle cx="419.66" cy="851.07" r="3.2" fill="#000"/>
<circle cx="429.17" cy="855.17" r="3.2" fill="#000"/>
<circle cx="438.67" cy="854.51" r="3.2" fill="#000"/>
<rect x="368.8" y="803.6" width="73.2" height="23.8" fill="#e2e0e1"/>
<text x="405.4" y="820.4" font-size="12.4" text-anchor="middle" fill="#1a1a1a" stroke="#1a1a1a">Nevada</text>
</g>
<g>
<rect x="449.5" y="827.4" width="73.2" height="62.4" fill="#f2f2f2"/>
<path d="M449.5 878.77h73.2M449.5 859.66h73.2M449.5 840.55h73.2M452.83 827.4v62.4M471.84 827.4v62.4M490.85 827.4v62.4M509.87 827.4v62.4" stroke="#fff" stroke-width="0.7" fill="none"/>
<path d="M449.5 888.33h73.2M449.5 869.22h73.2M449.5 850.11h73.2M449.5 831h73.2M462.33 827.4v62.4M481.35 827.4v62.4M500.36 827.4v62.4M519.37 827.4v62.4" stroke="#fff" stroke-width="1.4" fill="none"/>
<polyline points="452.83,843.8 462.33,842.37 471.84,840.94 481.35,839.22 490.85,837.78 500.36,836.83 509.87,838.26 519.37,838.45" fill="none" stroke="#000" stroke-width="1.5" stroke-linejoin="round"/>
<polyline points="452.83,843.8 462.33,845.05 471.84,843.13 481.35,837.78 490.85,838.74 500.36,836.06 509.87,836.06 519.37,836.83" fill="none" stroke="#000" stroke-width="1.5" stroke-linejoin="round"/>
<circle cx="452.83" cy="843.8" r="3.2" fill="#000"/>
<circle cx="462.33" cy="845.05" r="3.2" fill="#000"/>
<circle cx="471.84" cy="843.13" r="3.2" fill="#000"/>
<circle cx="481.35" cy="837.78" r="3.2" fill="#000"/>
<circle cx="490.85" cy="838.74" r="3.2" fill="#000"/>
<circle cx="500.36" cy="836.06" r="3.2" fill="#000"/>
<circle cx="509.87" cy="836.06" r="3.2" fill="#000"/>
<circle cx="519.37" cy="836.83" r="3.2" fill="#000"/>
<rect x="449.5" y="803.6" width="73.2" height="23.8" fill="#e2e0e1"/>
<text x="486.1" y="820.4" font-size="12.4" text-anchor="middle" fill="#1a1a1a" stroke="#1a1a1a">New Hampshire</text>
</g>
<g>
<rect x="530.2" y="827.4" width="73.2" height="62.4" fill="#f2f2f2"/>
<path d="M530.2 878.77h73.2M530.2 859.66h73.2M530.2 840.55h73.2M533.53 827.4v62.4M552.54 827.4v62.4M571.55 827.4v62.4M590.57 827.4v62.4" stroke="#fff" stroke-width="0.7" fill="none"/>
<path d="M530.2 888.33h73.2M530.2 869.22h73.2M530.2 850.11h73.2M530.2 831h73.2M543.03 827.4v62.4M562.05 827.4v62.4M581.06 827.4v62.4M600.07 827.4v62.4" stroke="#fff" stroke-width="1.4" fill="none"/>
<polyline points="533.53,848.39 543.03,845.05 552.54,841.89 562.05,838.74 571.55,836.54 581.06,836.06 590.57,837.69 600.07,838.45" fill="none" stroke="#000" stroke-width="1.5" stroke-linejoin="round"/>
<polyline points="533.53,848.39 543.03,845.05 552.54,841.41 562.05,836.06 571.55,836.54 581.06,835.87 590.57,837.31 600.07,838.26" fill="none" stroke="#000" stroke-width="1.5" stroke-linejoin="round"/>
<circle cx="533.53" cy="848.39" r="3.2" fill="#000"/>
<circle cx="543.03" cy="845.05" r="3.2" fill="#000"/>
<circle cx="552.54" cy="841.41" r="3.2" fill="#000"/>
<circle cx="562.05" cy="836.06" r="3.2" fill="#000"/>
<circle cx="571.55" cy="836.54" r="3.2" fill="#000"/>
<circle cx="581.06" cy="835.87" r="3.2" fill="#000"/>
<circle cx="590.57" cy="837.31" r="3.2" fill="#000"/>
<circle cx="600.07" cy="838.26" r="3.2" fill="#000"/>
<rect x="530.2" y="803.6" width="73.2" height="23.8" fill="#e2e0e1"/>
<text x="566.8" y="820.4" font-size="12.4" text-anchor="middle" fill="#1a1a1a" stroke="#1a1a1a">New Jersey</text>
</g>
<g>
<rect x="610.9" y="827.4" width="73.2" height="62.4" fill="#f2f2f2"/>
<path d="M610.9 878.77h73.2M610.9 859.66h73.2M610.9 840.55h73.2M614.23 827.4v62.4M633.24 827.4v62.4M652.25 827.4v62.4M671.27 827.4v62.4" stroke="#fff" stroke-width="0.7" fill="none"/>
<path d="M610.9 888.33h73.2M610.9 869.22h73.2M610.9 850.11h73.2M610.9 831h73.2M623.73 827.4v62.4M642.75 827.4v62.4M661.76 827.4v62.4M680.77 827.4v62.4" stroke="#fff" stroke-width="1.4" fill="none"/>
<polyline points="614.23,865.88 623.73,863.87 633.24,861.77 642.75,859.57 652.25,857.37 661.76,856.61 671.27,858.14 680.77,859.28" fill="none" stroke="#000" stroke-width="1.5" stroke-linejoin="round"/>
<polyline points="614.23,865.88 623.73,865.59 633.24,862.24 642.75,859.28 652.25,855.46 661.76,857.09 671.27,858.14 680.77,859.57" fill="none" stroke="#000" stroke-width="1.5" stroke-linejoin="round"/>
<circle cx="614.23" cy="865.88" r="3.2" fill="#000"/>
<circle cx="623.73" cy="865.59" r="3.2" fill="#000"/>
<circle cx="633.24" cy="862.24" r="3.2" fill="#000"/>
<circle cx="642.75" cy="859.28" r="3.2" fill="#000"/>
<circle cx="652.25" cy="855.46" r="3.2" fill="#000"/>
<circle cx="661.76" cy="857.09" r="3.2" fill="#000"/>
<circle cx="671.27" cy="858.14" r="3.2" fill="#000"/>
<circle cx="680.77" cy="859.57" r="3.2" fill="#000"/>
<rect x="610.9" y="803.6" width="73.2" height="23.8" fill="#e2e0e1"/>
<text x="647.5" y="820.4" font-size="12.4" text-anchor="middle" fill="#1a1a1a" stroke="#1a1a1a">New Mexico</text>
</g>
<g>
<rect x="46" y="920.9" width="73.2" height="62.4" fill="#f2f2f2"/>
<path d="M46 972.27h73.2M46 953.16h73.2M46 934.05h73.2M49.33 920.9v62.4M68.34 920.9v62.4M87.35 920.9v62.4M106.37 920.9v62.4" stroke="#fff" stroke-width="0.7" fill="none"/>
<path d="M46 981.83h73.2M46 962.72h73.2M46 943.61h73.2M46 924.5h73.2M58.83 920.9v62.4M77.85 920.9v62.4M96.86 920.9v62.4M115.87 920.9v62.4" stroke="#fff" stroke-width="1.4" fill="none"/>
<polyline points="49.33,943.32 58.83,943.13 68.34,942.94 77.85,942.75 87.35,942.85 96.86,943.04 106.37,943.32 115.87,943.23" fill="none" stroke="#000" stroke-width="1.5" stroke-linejoin="round"/>
<polyline points="49.33,943.04 58.83,943.99 68.34,943.32 77.85,940.65 87.35,943.8 96.86,943.51 106.37,943.51 115.87,942.85" fill="none" stroke="#000" stroke-width="1.5" stroke-linejoin="round"/>
<circle cx="49.33" cy="943.04" r="3.2" fill="#000"/>
<circle cx="58.83" cy="943.99" r="3.2" fill="#000"/>
<circle cx="68.34" cy="943.32" r="3.2" fill="#000"/>
<circle cx="77.85" cy="940.65" r="3.2" fill="#000"/>
<circle cx="87.35" cy="943.8" r="3.2" fill="#000"/>
<circle cx="96.86" cy="943.51" r="3.2" fill="#000"/>
<circle cx="106.37" cy="943.51" r="3.2" fill="#000"/>
<circle cx="115.87" cy="942.85" r="3.2" fill="#000"/>
<rect x="46" y="897.1" width="73.2" height="23.8" fill="#e2e0e1"/>
<text x="82.6" y="913.9" font-size="12.4" text-anchor="middle" fill="#1a1a1a" stroke="#1a1a1a">New York</text>
<text x="38.6" y="986.73" font-size="12.4" text-anchor="end" fill="#4d4d4d" stroke="#4d4d4d">240</text>
<text x="38.6" y="967.62" font-size="12.4" text-anchor="end" fill="#4d4d4d" stroke="#4d4d4d">260</text>
<text x="38.6" y="948.51" font-size="12.4" text-anchor="end" fill="#4d4d4d" stroke="#4d4d4d">280</text>
<text x="38.6" y="929.4" font-size="12.4" text-anchor="end" fill="#4d4d4d" stroke="#4d4d4d">300</text>
<path d="M46 981.83h-3.8M46 962.72h-3.8M46 943.61h-3.8M46 924.5h-3.8" stroke="#333" stroke-width="1.4" fill="none"/>
</g>
<g>
<rect x="126.7" y="920.9" width="73.2" height="62.4" fill="#f2f2f2"/>
<path d="M126.7 972.27h73.2M126.7 953.16h73.2M126.7 934.05h73.2M130.03 920.9v62.4M149.04 920.9v62.4M168.05 920.9v62.4M187.07 920.9v62.4" stroke="#fff" stroke-width="0.7" fill="none"/>
<path d="M126.7 981.83h73.2M126.7 962.72h73.2M126.7 943.61h73.2M126.7 924.5h73.2M139.53 920.9v62.4M158.55 920.9v62.4M177.56 920.9v62.4M196.57 920.9v62.4" stroke="#fff" stroke-width="1.4" fill="none"/>
<polyline points="130.03,943.32 139.53,942.08 149.04,940.84 158.55,939.69 168.05,938.93 177.56,938.93 187.07,940.65 196.57,940.65" fill="none" stroke="#000" stroke-width="1.5" stroke-linejoin="round"/>
<polyline points="130.03,943.32 139.53,942.85 149.04,938.74 158.55,940.17 168.05,938.45 177.56,938.45 187.07,943.32 196.57,942.56" fill="none" stroke="#000" stroke-width="1.5" stroke-linejoin="round"/>
<circle cx="130.03" cy="943.32" r="3.2" fill="#000"/>
<circle cx="139.53" cy="942.85" r="3.2" fill="#000"/>
<circle cx="149.04" cy="938.74" r="3.2" fill="#000"/>
<circle cx="158.55" cy="940.17" r="3.2" fill="#000"/>
<circle cx="168.05" cy="938.45" r="3.2" fill="#000"/>
<circle cx="177.56" cy="938.45" r="3.2" fill="#000"/>
<circle cx="187.07" cy="943.32" r="3.2" fill="#000"/>
<circle cx="196.57" cy="942.56" r="3.2" fill="#000"/>
<rect x="126.7" y="897.1" width="73.2" height="23.8" fill="#e2e0e1"/>
<text x="163.3" y="913.9" font-size="12.4" text-anchor="middle" fill="#1a1a1a" stroke="#1a1a1a">North Carolina</text>
</g>
<g>
<rect x="207.4" y="920.9" width="73.2" height="62.4" fill="#f2f2f2"/>
<path d="M207.4 972.27h73.2M207.4 953.16h73.2M207.4 934.05h73.2M210.73 920.9v62.4M229.74 920.9v62.4M248.75 920.9v62.4M267.77 920.9v62.4" stroke="#fff" stroke-width="0.7" fill="none"/>
<path d="M207.4 981.83h73.2M207.4 962.72h73.2M207.4 943.61h73.2M207.4 924.5h73.2M220.23 920.9v62.4M239.25 920.9v62.4M258.26 920.9v62.4M277.27 920.9v62.4" stroke="#fff" stroke-width="1.4" fill="none"/>
<polyline points="210.73,937.02 220.23,935.3 229.74,933.67 239.25,932.24 248.75,931.76 258.26,932.72 267.77,934.34 277.27,934.63" fill="none" stroke="#000" stroke-width="1.5" stroke-linejoin="round"/>
<polyline points="210.73,937.02 220.23,936.83 229.74,931.28 239.25,929.76 248.75,931 258.26,933.86 267.77,936.35 277.27,936.35" fill="none" stroke="#000" stroke-width="1.5" stroke-linejoin="round"/>
<circle cx="210.73" cy="937.02" r="3.2" fill="#000"/>
<circle cx="220.23" cy="936.83" r="3.2" fill="#000"/>
<circle cx="229.74" cy="931.28" r="3.2" fill="#000"/>
<circle cx="239.25" cy="929.76" r="3.2" fill="#000"/>
<circle cx="248.75" cy="931" r="3.2" fill="#000"/>
<circle cx="258.26" cy="933.86" r="3.2" fill="#000"/>
<circle cx="267.77" cy="936.35" r="3.2" fill="#000"/>
<circle cx="277.27" cy="936.35" r="3.2" fill="#000"/>
<rect x="207.4" y="897.1" width="73.2" height="23.8" fill="#e2e0e1"/>
<text x="244" y="913.9" font-size="12.4" text-anchor="middle" fill="#1a1a1a" stroke="#1a1a1a">North Dakota</text>
</g>
<g>
<rect x="288.1" y="920.9" width="73.2" height="62.4" fill="#f2f2f2"/>
<path d="M288.1 972.27h73.2M288.1 953.16h73.2M288.1 934.05h73.2M291.43 920.9v62.4M310.44 920.9v62.4M329.45 920.9v62.4M348.47 920.9v62.4" stroke="#fff" stroke-width="0.7" fill="none"/>
<path d="M288.1 981.83h73.2M288.1 962.72h73.2M288.1 943.61h73.2M288.1 924.5h73.2M300.93 920.9v62.4M319.95 920.9v62.4M338.96 920.9v62.4M357.97 920.9v62.4" stroke="#fff" stroke-width="1.4" fill="none"/>
<polyline points="291.43,941.6 300.93,939.88 310.44,938.26 319.95,936.83 329.45,935.77 338.96,935.3 348.47,937.88 357.97,937.4" fill="none" stroke="#000" stroke-width="1.5" stroke-linejoin="round"/>
<polyline points="291.43,941.6 300.93,939.88 310.44,937.97 319.95,937.02 329.45,935.11 338.96,934.82 348.47,940.17 357.97,936.54" fill="none" stroke="#000" stroke-width="1.5" stroke-linejoin="round"/>
<circle cx="291.43" cy="941.6" r="3.2" fill="#000"/>
<circle cx="300.93" cy="939.88" r="3.2" fill="#000"/>
<circle cx="310.44" cy="937.97" r="3.2" fill="#000"/>
<circle cx="319.95" cy="937.02" r="3.2" fill="#000"/>
<circle cx="329.45" cy="935.11" r="3.2" fill="#000"/>
<circle cx="338.96" cy="934.82" r="3.2" fill="#000"/>
<circle cx="348.47" cy="940.17" r="3.2" fill="#000"/>
<circle cx="357.97" cy="936.54" r="3.2" fill="#000"/>
<rect x="288.1" y="897.1" width="73.2" height="23.8" fill="#e2e0e1"/>
<text x="324.7" y="913.9" font-size="12.4" text-anchor="middle" fill="#1a1a1a" stroke="#1a1a1a">Ohio</text>
</g>
<g>
<rect x="368.8" y="920.9" width="73.2" height="62.4" fill="#f2f2f2"/>
<path d="M368.8 972.27h73.2M368.8 953.16h73.2M368.8 934.05h73.2M372.13 920.9v62.4M391.14 920.9v62.4M410.15 920.9v62.4M429.17 920.9v62.4" stroke="#fff" stroke-width="0.7" fill="none"/>
<path d="M368.8 981.83h73.2M368.8 962.72h73.2M368.8 943.61h73.2M368.8 924.5h73.2M381.63 920.9v62.4M400.65 920.9v62.4M419.66 920.9v62.4M438.67 920.9v62.4" stroke="#fff" stroke-width="1.4" fill="none"/>
<polyline points="372.13,951.25 381.63,949.82 391.14,948.39 400.65,946.86 410.15,946.19 419.66,946.38 429.17,948.1 438.67,948.58" fill="none" stroke="#000" stroke-width="1.5" stroke-linejoin="round"/>
<polyline points="372.13,951.25 381.63,952.21 391.14,947.15 400.65,945.9 410.15,943.51 419.66,949.06 429.17,948.39 438.67,949.34" fill="none" stroke="#000" stroke-width="1.5" stroke-linejoin="round"/>
<circle cx="372.13" cy="951.25" r="3.2" fill="#000"/>
<circle cx="381.63" cy="952.21" r="3.2" fill="#000"/>
<circle cx="391.14" cy="947.15" r="3.2" fill="#000"/>
<circle cx="400.65" cy="945.9" r="3.2" fill="#000"/>
<circle cx="410.15" cy="943.51" r="3.2" fill="#000"/>
<circle cx="419.66" cy="949.06" r="3.2" fill="#000"/>
<circle cx="429.17" cy="948.39" r="3.2" fill="#000"/>
<circle cx="438.67" cy="949.34" r="3.2" fill="#000"/>
<rect x="368.8" y="897.1" width="73.2" height="23.8" fill="#e2e0e1"/>
<text x="405.4" y="913.9" font-size="12.4" text-anchor="middle" fill="#1a1a1a" stroke="#1a1a1a">Oklahoma</text>
</g>
<g>
<rect x="449.5" y="920.9" width="73.2" height="62.4" fill="#f2f2f2"/>
<path d="M449.5 972.27h73.2M449.5 953.16h73.2M449.5 934.05h73.2M452.83 920.9v62.4M471.84 920.9v62.4M490.85 920.9v62.4M509.87 920.9v62.4" stroke="#fff" stroke-width="0.7" fill="none"/>
<path d="M449.5 981.83h73.2M449.5 962.72h73.2M449.5 943.61h73.2M449.5 924.5h73.2M462.33 920.9v62.4M481.35 920.9v62.4M500.36 920.9v62.4M519.37 920.9v62.4" stroke="#fff" stroke-width="1.4" fill="none"/>
<polyline points="452.83,941.89 462.33,940.65 471.84,939.69 481.35,938.93 490.85,938.74 500.36,939.21 509.87,940.65 519.37,940.65" fill="none" stroke="#000" stroke-width="1.5" stroke-linejoin="round"/>
<polyline points="452.83,942.08 462.33,940.65 471.84,939.69 481.35,937.3 490.85,938.93 500.36,939.69 509.87,942.56 519.37,941.13" fill="none" stroke="#000" stroke-width="1.5" stroke-linejoin="round"/>
<circle cx="452.83" cy="942.08" r="3.2" fill="#000"/>
<circle cx="462.33" cy="940.65" r="3.2" fill="#000"/>
<circle cx="471.84" cy="939.69" r="3.2" fill="#000"/>
<circle cx="481.35" cy="937.3" r="3.2" fill="#000"/>
<circle cx="490.85" cy="938.93" r="3.2" fill="#000"/>
<circle cx="500.36" cy="939.69" r="3.2" fill="#000"/>
<circle cx="509.87" cy="942.56" r="3.2" fill="#000"/>
<circle cx="519.37" cy="941.13" r="3.2" fill="#000"/>
<rect x="449.5" y="897.1" width="73.2" height="23.8" fill="#e2e0e1"/>
<text x="486.1" y="913.9" font-size="12.4" text-anchor="middle" fill="#1a1a1a" stroke="#1a1a1a">Oregon</text>
</g>
<g>
<rect x="530.2" y="920.9" width="73.2" height="62.4" fill="#f2f2f2"/>
<path d="M530.2 972.27h73.2M530.2 953.16h73.2M530.2 934.05h73.2M533.53 920.9v62.4M552.54 920.9v62.4M571.55 920.9v62.4M590.57 920.9v62.4" stroke="#fff" stroke-width="0.7" fill="none"/>
<path d="M530.2 981.83h73.2M530.2 962.72h73.2M530.2 943.61h73.2M530.2 924.5h73.2M543.03 920.9v62.4M562.05 920.9v62.4M581.06 920.9v62.4M600.07 920.9v62.4" stroke="#fff" stroke-width="1.4" fill="none"/>
<polyline points="533.53,943.51 543.03,941.32 552.54,938.93 562.05,937.3 571.55,936.06 581.06,935.3 590.57,937.97 600.07,937.97" fill="none" stroke="#000" stroke-width="1.5" stroke-linejoin="round"/>
<polyline points="533.53,943.51 543.03,941.6 552.54,935.58 562.05,934.63 571.55,937.02 581.06,934.15 590.57,941.6 600.07,938.93" fill="none" stroke="#000" stroke-width="1.5" stroke-linejoin="round"/>
<circle cx="533.53" cy="943.51" r="3.2" fill="#000"/>
<circle cx="543.03" cy="941.6" r="3.2" fill="#000"/>
<circle cx="552.54" cy="935.58" r="3.2" fill="#000"/>
<circle cx="562.05" cy="934.63" r="3.2" fill="#000"/>
<circle cx="571.55" cy="937.02" r="3.2" fill="#000"/>
<circle cx="581.06" cy="934.15" r="3.2" fill="#000"/>
<circle cx="590.57" cy="941.6" r="3.2" fill="#000"/>
<circle cx="600.07" cy="938.93" r="3.2" fill="#000"/>
<rect x="530.2" y="897.1" width="73.2" height="23.8" fill="#e2e0e1"/>
<text x="566.8" y="913.9" font-size="12.4" text-anchor="middle" fill="#1a1a1a" stroke="#1a1a1a">Pennsylvania</text>
</g>
<g>
<rect x="610.9" y="920.9" width="73.2" height="62.4" fill="#f2f2f2"/>
<path d="M610.9 972.27h73.2M610.9 953.16h73.2M610.9 934.05h73.2M614.23 920.9v62.4M633.24 920.9v62.4M652.25 920.9v62.4M671.27 920.9v62.4" stroke="#fff" stroke-width="0.7" fill="none"/>
<path d="M610.9 981.83h73.2M610.9 962.72h73.2M610.9 943.61h73.2M610.9 924.5h73.2M623.73 920.9v62.4M642.75 920.9v62.4M661.76 920.9v62.4M680.77 920.9v62.4" stroke="#fff" stroke-width="1.4" fill="none"/>
<polyline points="614.23,950.78 623.73,949.06 633.24,946.67 642.75,944.28 652.25,941.89 661.76,940.36 671.27,943.32 680.77,945.71" fill="none" stroke="#000" stroke-width="1.5" stroke-linejoin="round"/>
<polyline points="614.23,950.78 623.73,951.73 633.24,948.39 642.75,945.71 652.25,941.13 661.76,940.17 671.27,943.8 680.77,946.19" fill="none" stroke="#000" stroke-width="1.5" stroke-linejoin="round"/>
<circle cx="614.23" cy="950.78" r="3.2" fill="#000"/>
<circle cx="623.73" cy="951.73" r="3.2" fill="#000"/>
<circle cx="633.24" cy="948.39" r="3.2" fill="#000"/>
<circle cx="642.75" cy="945.71" r="3.2" fill="#000"/>
<circle cx="652.25" cy="941.13" r="3.2" fill="#000"/>
<circle cx="661.76" cy="940.17" r="3.2" fill="#000"/>
<circle cx="671.27" cy="943.8" r="3.2" fill="#000"/>
<circle cx="680.77" cy="946.19" r="3.2" fill="#000"/>
<rect x="610.9" y="897.1" width="73.2" height="23.8" fill="#e2e0e1"/>
<text x="647.5" y="913.9" font-size="12.4" text-anchor="middle" fill="#1a1a1a" stroke="#1a1a1a">Rhode Island</text>
</g>
<g>
<rect x="46" y="1014.4" width="73.2" height="62.4" fill="#f2f2f2"/>
<path d="M46 1065.78h73.2M46 1046.66h73.2M46 1027.56h73.2M49.33 1014.4v62.4M68.34 1014.4v62.4M87.35 1014.4v62.4M106.37 1014.4v62.4" stroke="#fff" stroke-width="0.7" fill="none"/>
<path d="M46 1075.33h73.2M46 1056.22h73.2M46 1037.11h73.2M46 1018h73.2M58.83 1014.4v62.4M77.85 1014.4v62.4M96.86 1014.4v62.4M115.87 1014.4v62.4" stroke="#fff" stroke-width="1.4" fill="none"/>
<polyline points="49.33,1037.21 58.83,1036.82 68.34,1036.63 77.85,1036.54 87.35,1036.54 96.86,1036.63 106.37,1037.11 115.87,1037.11" fill="none" stroke="#000" stroke-width="1.5" stroke-linejoin="round"/>
<polyline points="49.33,1037.4 58.83,1036.15 68.34,1036.35 77.85,1036.63 87.35,1037.11 96.86,1036.63 106.37,1042.65 115.87,1043.13" fill="none" stroke="#000" stroke-width="1.5" stroke-linejoin="round"/>
<circle cx="49.33" cy="1037.4" r="3.2" fill="#000"/>
<circle cx="58.83" cy="1036.15" r="3.2" fill="#000"/>
<circle cx="68.34" cy="1036.35" r="3.2" fill="#000"/>
<circle cx="77.85" cy="1036.63" r="3.2" fill="#000"/>
<circle cx="87.35" cy="1037.11" r="3.2" fill="#000"/>
<circle cx="96.86" cy="1036.63" r="3.2" fill="#000"/>
<circle cx="106.37" cy="1042.65" r="3.2" fill="#000"/>
<circle cx="115.87" cy="1043.13" r="3.2" fill="#000"/>
<rect x="46" y="990.6" width="73.2" height="23.8" fill="#e2e0e1"/>
<text x="82.6" y="1007.4" font-size="12.4" text-anchor="middle" fill="#1a1a1a" stroke="#1a1a1a">South Carolina</text>
<text x="38.6" y="1080.23" font-size="12.4" text-anchor="end" fill="#4d4d4d" stroke="#4d4d4d">240</text>
<text x="38.6" y="1061.12" font-size="12.4" text-anchor="end" fill="#4d4d4d" stroke="#4d4d4d">260</text>
<text x="38.6" y="1042.01" font-size="12.4" text-anchor="end" fill="#4d4d4d" stroke="#4d4d4d">280</text>
<text x="38.6" y="1022.9" font-size="12.4" text-anchor="end" fill="#4d4d4d" stroke="#4d4d4d">300</text>
<path d="M46 1075.33h-3.8M46 1056.22h-3.8M46 1037.11h-3.8M46 1018h-3.8" stroke="#333" stroke-width="1.4" fill="none"/>
</g>
<g>
<rect x="126.7" y="1014.4" width="73.2" height="62.4" fill="#f2f2f2"/>
<path d="M126.7 1065.78h73.2M126.7 1046.66h73.2M126.7 1027.56h73.2M130.03 1014.4v62.4M149.04 1014.4v62.4M168.05 1014.4v62.4M187.07 1014.4v62.4" stroke="#fff" stroke-width="0.7" fill="none"/>
<path d="M126.7 1075.33h73.2M126.7 1056.22h73.2M126.7 1037.11h73.2M126.7 1018h73.2M139.53 1014.4v62.4M158.55 1014.4v62.4M177.56 1014.4v62.4M196.57 1014.4v62.4" stroke="#fff" stroke-width="1.4" fill="none"/>
<polyline points="130.03,1031.76 139.53,1030.8 149.04,1029.66 158.55,1028.61 168.05,1028.13 177.56,1028.41 187.07,1030.13 196.57,1030.13" fill="none" stroke="#000" stroke-width="1.5" stroke-linejoin="round"/>
<polyline points="130.03,1031.76 139.53,1030.33 149.04,1028.13 158.55,1025.45 168.05,1026.7 177.56,1030.13 187.07,1033.96 196.57,1031.57" fill="none" stroke="#000" stroke-width="1.5" stroke-linejoin="round"/>
<circle cx="130.03" cy="1031.76" r="3.2" fill="#000"/>
<circle cx="139.53" cy="1030.33" r="3.2" fill="#000"/>
<circle cx="149.04" cy="1028.13" r="3.2" fill="#000"/>
<circle cx="158.55" cy="1025.45" r="3.2" fill="#000"/>
<circle cx="168.05" cy="1026.7" r="3.2" fill="#000"/>
<circle cx="177.56" cy="1030.13" r="3.2" fill="#000"/>
<circle cx="187.07" cy="1033.96" r="3.2" fill="#000"/>
<circle cx="196.57" cy="1031.57" r="3.2" fill="#000"/>
<rect x="126.7" y="990.6" width="73.2" height="23.8" fill="#e2e0e1"/>
<text x="163.3" y="1007.4" font-size="12.4" text-anchor="middle" fill="#1a1a1a" stroke="#1a1a1a">South Dakota</text>
</g>
<g>
<rect x="207.4" y="1014.4" width="73.2" height="62.4" fill="#f2f2f2"/>
<path d="M207.4 1065.78h73.2M207.4 1046.66h73.2M207.4 1027.56h73.2M210.73 1014.4v62.4M229.74 1014.4v62.4M248.75 1014.4v62.4M267.77 1014.4v62.4" stroke="#fff" stroke-width="0.7" fill="none"/>
<path d="M207.4 1075.33h73.2M207.4 1056.22h73.2M207.4 1037.11h73.2M207.4 1018h73.2M220.23 1014.4v62.4M239.25 1014.4v62.4M258.26 1014.4v62.4M277.27 1014.4v62.4" stroke="#fff" stroke-width="1.4" fill="none"/>
<polyline points="210.73,1039.02 220.23,1036.63 229.74,1033.96 239.25,1031.28 248.75,1029.08 258.26,1029.08 267.77,1031.57 277.27,1031.57" fill="none" stroke="#000" stroke-width="1.5" stroke-linejoin="round"/>
<polyline points="210.73,1039.02 220.23,1034.91 229.74,1030.61 239.25,1030.13 248.75,1027.17 258.26,1029.37 267.77,1034.43 277.27,1035.2" fill="none" stroke="#000" stroke-width="1.5" stroke-linejoin="round"/>
<circle cx="210.73" cy="1039.02" r="3.2" fill="#000"/>
<circle cx="220.23" cy="1034.91" r="3.2" fill="#000"/>
<circle cx="229.74" cy="1030.61" r="3.2" fill="#000"/>
<circle cx="239.25" cy="1030.13" r="3.2" fill="#000"/>
<circle cx="248.75" cy="1027.17" r="3.2" fill="#000"/>
<circle cx="258.26" cy="1029.37" r="3.2" fill="#000"/>
<circle cx="267.77" cy="1034.43" r="3.2" fill="#000"/>
<circle cx="277.27" cy="1035.2" r="3.2" fill="#000"/>
<rect x="207.4" y="990.6" width="73.2" height="23.8" fill="#e2e0e1"/>
<text x="244" y="1007.4" font-size="12.4" text-anchor="middle" fill="#1a1a1a" stroke="#1a1a1a">Texas</text>
<text x="220.23" y="1093.2" font-size="12.4" text-anchor="middle" fill="#4d4d4d" stroke="#4d4d4d">2</text>
<text x="239.25" y="1093.2" font-size="12.4" text-anchor="middle" fill="#4d4d4d" stroke="#4d4d4d">4</text>
<text x="258.26" y="1093.2" font-size="12.4" text-anchor="middle" fill="#4d4d4d" stroke="#4d4d4d">6</text>
<text x="277.27" y="1093.2" font-size="12.4" text-anchor="middle" fill="#4d4d4d" stroke="#4d4d4d">8</text>
<path d="M220.23 1076.8v3.8M239.25 1076.8v3.8M258.26 1076.8v3.8M277.27 1076.8v3.8" stroke="#333" stroke-width="1.4" fill="none"/>
</g>
<g>
<rect x="288.1" y="1014.4" width="73.2" height="62.4" fill="#f2f2f2"/>
<path d="M288.1 1065.78h73.2M288.1 1046.66h73.2M288.1 1027.56h73.2M291.43 1014.4v62.4M310.44 1014.4v62.4M329.45 1014.4v62.4M348.47 1014.4v62.4" stroke="#fff" stroke-width="0.7" fill="none"/>
<path d="M288.1 1075.33h73.2M288.1 1056.22h73.2M288.1 1037.11h73.2M288.1 1018h73.2M300.93 1014.4v62.4M319.95 1014.4v62.4M338.96 1014.4v62.4M357.97 1014.4v62.4" stroke="#fff" stroke-width="1.4" fill="none"/>
<polyline points="291.43,1035.87 300.93,1035.2 310.44,1034.43 319.95,1033.77 329.45,1033.19 338.96,1032.71 348.47,1033 357.97,1032.52" fill="none" stroke="#000" stroke-width="1.5" stroke-linejoin="round"/>
<polyline points="291.43,1035.87 300.93,1037.87 310.44,1034.91 319.95,1032.52 329.45,1032.52 338.96,1032.71 348.47,1030.61 357.97,1030.13" fill="none" stroke="#000" stroke-width="1.5" stroke-linejoin="round"/>
<circle cx="291.43" cy="1035.87" r="3.2" fill="#000"/>
<circle cx="300.93" cy="1037.87" r="3.2" fill="#000"/>
<circle cx="310.44" cy="1034.91" r="3.2" fill="#000"/>
<circle cx="319.95" cy="1032.52" r="3.2" fill="#000"/>
<circle cx="329.45" cy="1032.52" r="3.2" fill="#000"/>
<circle cx="338.96" cy="1032.71" r="3.2" fill="#000"/>
<circle cx="348.47" cy="1030.61" r="3.2" fill="#000"/>
<circle cx="357.97" cy="1030.13" r="3.2" fill="#000"/>
<rect x="288.1" y="990.6" width="73.2" height="23.8" fill="#e2e0e1"/>
<text x="324.7" y="1007.4" font-size="12.4" text-anchor="middle" fill="#1a1a1a" stroke="#1a1a1a">Utah</text>
<text x="300.93" y="1093.2" font-size="12.4" text-anchor="middle" fill="#4d4d4d" stroke="#4d4d4d">2</text>
<text x="319.95" y="1093.2" font-size="12.4" text-anchor="middle" fill="#4d4d4d" stroke="#4d4d4d">4</text>
<text x="338.96" y="1093.2" font-size="12.4" text-anchor="middle" fill="#4d4d4d" stroke="#4d4d4d">6</text>
<text x="357.97" y="1093.2" font-size="12.4" text-anchor="middle" fill="#4d4d4d" stroke="#4d4d4d">8</text>
<path d="M300.93 1076.8v3.8M319.95 1076.8v3.8M338.96 1076.8v3.8M357.97 1076.8v3.8" stroke="#333" stroke-width="1.4" fill="none"/>
</g>
<g>
<rect x="368.8" y="1014.4" width="73.2" height="62.4" fill="#f2f2f2"/>
<path d="M368.8 1065.78h73.2M368.8 1046.66h73.2M368.8 1027.56h73.2M372.13 1014.4v62.4M391.14 1014.4v62.4M410.15 1014.4v62.4M429.17 1014.4v62.4" stroke="#fff" stroke-width="0.7" fill="none"/>
<path d="M368.8 1075.33h73.2M368.8 1056.22h73.2M368.8 1037.11h73.2M368.8 1018h73.2M381.63 1014.4v62.4M400.65 1014.4v62.4M419.66 1014.4v62.4M438.67 1014.4v62.4" stroke="#fff" stroke-width="1.4" fill="none"/>
<polyline points="372.13,1032.05 381.63,1029.85 391.14,1027.46 400.65,1025.45 410.15,1024.31 419.66,1024.02 429.17,1025.74 438.67,1026.03" fill="none" stroke="#000" stroke-width="1.5" stroke-linejoin="round"/>
<polyline points="372.13,1032.05 381.63,1030.61 391.14,1025.74 400.65,1023.83 410.15,1024.31 419.66,1023.35 429.17,1026.03 438.67,1030.8" fill="none" stroke="#000" stroke-width="1.5" stroke-linejoin="round"/>
<circle cx="372.13" cy="1032.05" r="3.2" fill="#000"/>
<circle cx="381.63" cy="1030.61" r="3.2" fill="#000"/>
<circle cx="391.14" cy="1025.74" r="3.2" fill="#000"/>
<circle cx="400.65" cy="1023.83" r="3.2" fill="#000"/>
<circle cx="410.15" cy="1024.31" r="3.2" fill="#000"/>
<circle cx="419.66" cy="1023.35" r="3.2" fill="#000"/>
<circle cx="429.17" cy="1026.03" r="3.2" fill="#000"/>
<circle cx="438.67" cy="1030.8" r="3.2" fill="#000"/>
<rect x="368.8" y="990.6" width="73.2" height="23.8" fill="#e2e0e1"/>
<text x="405.4" y="1007.4" font-size="12.4" text-anchor="middle" fill="#1a1a1a" stroke="#1a1a1a">Vermont</text>
<text x="381.63" y="1093.2" font-size="12.4" text-anchor="middle" fill="#4d4d4d" stroke="#4d4d4d">2</text>
<text x="400.65" y="1093.2" font-size="12.4" text-anchor="middle" fill="#4d4d4d" stroke="#4d4d4d">4</text>
<text x="419.66" y="1093.2" font-size="12.4" text-anchor="middle" fill="#4d4d4d" stroke="#4d4d4d">6</text>
<text x="438.67" y="1093.2" font-size="12.4" text-anchor="middle" fill="#4d4d4d" stroke="#4d4d4d">8</text>
<path d="M381.63 1076.8v3.8M400.65 1076.8v3.8M419.66 1076.8v3.8M438.67 1076.8v3.8" stroke="#333" stroke-width="1.4" fill="none"/>
</g>
<g>
<rect x="449.5" y="1014.4" width="73.2" height="62.4" fill="#f2f2f2"/>
<path d="M449.5 1065.78h73.2M449.5 1046.66h73.2M449.5 1027.56h73.2M452.83 1014.4v62.4M471.84 1014.4v62.4M490.85 1014.4v62.4M509.87 1014.4v62.4" stroke="#fff" stroke-width="0.7" fill="none"/>
<path d="M449.5 1075.33h73.2M449.5 1056.22h73.2M449.5 1037.11h73.2M449.5 1018h73.2M462.33 1014.4v62.4M481.35 1014.4v62.4M500.36 1014.4v62.4M519.37 1014.4v62.4" stroke="#fff" stroke-width="1.4" fill="none"/>
<polyline points="452.83,1034.24 462.33,1032.52 471.84,1031.28 481.35,1030.33 490.85,1029.66 500.36,1029.37 509.87,1029.85 519.37,1029.66" fill="none" stroke="#000" stroke-width="1.5" stroke-linejoin="round"/>
<polyline points="452.83,1034.43 462.33,1032.05 471.84,1029.08 481.35,1030.33 490.85,1028.89 500.36,1030.33 509.87,1029.37 519.37,1028.13" fill="none" stroke="#000" stroke-width="1.5" stroke-linejoin="round"/>
<circle cx="452.83" cy="1034.43" r="3.2" fill="#000"/>
<circle cx="462.33" cy="1032.05" r="3.2" fill="#000"/>
<circle cx="471.84" cy="1029.08" r="3.2" fill="#000"/>
<circle cx="481.35" cy="1030.33" r="3.2" fill="#000"/>
<circle cx="490.85" cy="1028.89" r="3.2" fill="#000"/>
<circle cx="500.36" cy="1030.33" r="3.2" fill="#000"/>
<circle cx="509.87" cy="1029.37" r="3.2" fill="#000"/>
<circle cx="519.37" cy="1028.13" r="3.2" fill="#000"/>
<rect x="449.5" y="990.6" width="73.2" height="23.8" fill="#e2e0e1"/>
<text x="486.1" y="1007.4" font-size="12.4" text-anchor="middle" fill="#1a1a1a" stroke="#1a1a1a">Virginia</text>
<text x="462.33" y="1093.2" font-size="12.4" text-anchor="middle" fill="#4d4d4d" stroke="#4d4d4d">2</text>
<text x="481.35" y="1093.2" font-size="12.4" text-anchor="middle" fill="#4d4d4d" stroke="#4d4d4d">4</text>
<text x="500.36" y="1093.2" font-size="12.4" text-anchor="middle" fill="#4d4d4d" stroke="#4d4d4d">6</text>
<text x="519.37" y="1093.2" font-size="12.4" text-anchor="middle" fill="#4d4d4d" stroke="#4d4d4d">8</text>
<path d="M462.33 1076.8v3.8M481.35 1076.8v3.8M500.36 1076.8v3.8M519.37 1076.8v3.8" stroke="#333" stroke-width="1.4" fill="none"/>
</g>
<g>
<rect x="530.2" y="1014.4" width="73.2" height="62.4" fill="#f2f2f2"/>
<path d="M530.2 1065.78h73.2M530.2 1046.66h73.2M530.2 1027.56h73.2M533.53 1014.4v62.4M552.54 1014.4v62.4M571.55 1014.4v62.4M590.57 1014.4v62.4" stroke="#fff" stroke-width="0.7" fill="none"/>
<path d="M530.2 1075.33h73.2M530.2 1056.22h73.2M530.2 1037.11h73.2M530.2 1018h73.2M543.03 1014.4v62.4M562.05 1014.4v62.4M581.06 1014.4v62.4M600.07 1014.4v62.4" stroke="#fff" stroke-width="1.4" fill="none"/>
<polyline points="533.53,1035.39 543.03,1033.48 552.54,1031.76 562.05,1030.33 571.55,1029.37 581.06,1028.61 590.57,1029.85 600.07,1029.08" fill="none" stroke="#000" stroke-width="1.5" stroke-linejoin="round"/>
<polyline points="533.53,1035.87 543.03,1033 552.54,1033.48 562.05,1028.41 571.55,1030.13 581.06,1027.94 590.57,1030.61 600.07,1027.65" fill="none" stroke="#000" stroke-width="1.5" stroke-linejoin="round"/>
<circle cx="533.53" cy="1035.87" r="3.2" fill="#000"/>
<circle cx="543.03" cy="1033" r="3.2" fill="#000"/>
<circle cx="552.54" cy="1033.48" r="3.2" fill="#000"/>
<circle cx="562.05" cy="1028.41" r="3.2" fill="#000"/>
<circle cx="571.55" cy="1030.13" r="3.2" fill="#000"/>
<circle cx="581.06" cy="1027.94" r="3.2" fill="#000"/>
<circle cx="590.57" cy="1030.61" r="3.2" fill="#000"/>
<circle cx="600.07" cy="1027.65" r="3.2" fill="#000"/>
<rect x="530.2" y="990.6" width="73.2" height="23.8" fill="#e2e0e1"/>
<text x="566.8" y="1007.4" font-size="12.4" text-anchor="middle" fill="#1a1a1a" stroke="#1a1a1a">Washington</text>
<text x="543.03" y="1093.2" font-size="12.4" text-anchor="middle" fill="#4d4d4d" stroke="#4d4d4d">2</text>
<text x="562.05" y="1093.2" font-size="12.4" text-anchor="middle" fill="#4d4d4d" stroke="#4d4d4d">4</text>
<text x="581.06" y="1093.2" font-size="12.4" text-anchor="middle" fill="#4d4d4d" stroke="#4d4d4d">6</text>
<text x="600.07" y="1093.2" font-size="12.4" text-anchor="middle" fill="#4d4d4d" stroke="#4d4d4d">8</text>
<path d="M543.03 1076.8v3.8M562.05 1076.8v3.8M581.06 1076.8v3.8M600.07 1076.8v3.8" stroke="#333" stroke-width="1.4" fill="none"/>
</g>
<g>
<rect x="610.9" y="1014.4" width="73.2" height="62.4" fill="#f2f2f2"/>
<path d="M610.9 1065.78h73.2M610.9 1046.66h73.2M610.9 1027.56h73.2M614.23 1014.4v62.4M633.24 1014.4v62.4M652.25 1014.4v62.4M671.27 1014.4v62.4" stroke="#fff" stroke-width="0.7" fill="none"/>
<path d="M610.9 1075.33h73.2M610.9 1056.22h73.2M610.9 1037.11h73.2M610.9 1018h73.2M623.73 1014.4v62.4M642.75 1014.4v62.4M661.76 1014.4v62.4M680.77 1014.4v62.4" stroke="#fff" stroke-width="1.4" fill="none"/>
<polyline points="614.23,1046.28 623.73,1045.81 633.24,1045.14 642.75,1044.56 652.25,1043.89 661.76,1043.42 671.27,1044.56 680.77,1044.09" fill="none" stroke="#000" stroke-width="1.5" stroke-linejoin="round"/>
<polyline points="614.23,1046.28 623.73,1048.77 633.24,1045.33 642.75,1046.57 652.25,1043.42 661.76,1042.94 671.27,1045.33 680.77,1043.89" fill="none" stroke="#000" stroke-width="1.5" stroke-linejoin="round"/>
<circle cx="614.23" cy="1046.28" r="3.2" fill="#000"/>
<circle cx="623.73" cy="1048.77" r="3.2" fill="#000"/>
<circle cx="633.24" cy="1045.33" r="3.2" fill="#000"/>
<circle cx="642.75" cy="1046.57" r="3.2" fill="#000"/>
<circle cx="652.25" cy="1043.42" r="3.2" fill="#000"/>
<circle cx="661.76" cy="1042.94" r="3.2" fill="#000"/>
<circle cx="671.27" cy="1045.33" r="3.2" fill="#000"/>
<circle cx="680.77" cy="1043.89" r="3.2" fill="#000"/>
<rect x="610.9" y="990.6" width="73.2" height="23.8" fill="#e2e0e1"/>
<text x="647.5" y="1007.4" font-size="12.4" text-anchor="middle" fill="#1a1a1a" stroke="#1a1a1a">West Virginia</text>
<text x="623.73" y="1093.2" font-size="12.4" text-anchor="middle" fill="#4d4d4d" stroke="#4d4d4d">2</text>
<text x="642.75" y="1093.2" font-size="12.4" text-anchor="middle" fill="#4d4d4d" stroke="#4d4d4d">4</text>
<text x="661.76" y="1093.2" font-size="12.4" text-anchor="middle" fill="#4d4d4d" stroke="#4d4d4d">6</text>
<text x="680.77" y="1093.2" font-size="12.4" text-anchor="middle" fill="#4d4d4d" stroke="#4d4d4d">8</text>
<path d="M623.73 1076.8v3.8M642.75 1076.8v3.8M661.76 1076.8v3.8M680.77 1076.8v3.8" stroke="#333" stroke-width="1.4" fill="none"/>
</g>
<g>
<rect x="46" y="1107.9" width="73.2" height="62.4" fill="#f2f2f2"/>
<path d="M46 1159.28h73.2M46 1140.16h73.2M46 1121.06h73.2M49.33 1107.9v62.4M68.34 1107.9v62.4M87.35 1107.9v62.4M106.37 1107.9v62.4" stroke="#fff" stroke-width="0.7" fill="none"/>
<path d="M46 1168.83h73.2M46 1149.72h73.2M46 1130.61h73.2M46 1111.5h73.2M58.83 1107.9v62.4M77.85 1107.9v62.4M96.86 1107.9v62.4M115.87 1107.9v62.4" stroke="#fff" stroke-width="1.4" fill="none"/>
<polyline points="49.33,1127.17 58.83,1125.74 68.34,1124.3 77.85,1123.06 87.35,1122.3 96.86,1122.11 106.37,1122.77 115.87,1122.58" fill="none" stroke="#000" stroke-width="1.5" stroke-linejoin="round"/>
<polyline points="49.33,1127.17 58.83,1126.41 68.34,1124.3 77.85,1122.11 87.35,1121.34 96.86,1122.77 106.37,1122.77 115.87,1122.58" fill="none" stroke="#000" stroke-width="1.5" stroke-linejoin="round"/>
<circle cx="49.33" cy="1127.17" r="3.2" fill="#000"/>
<circle cx="58.83" cy="1126.41" r="3.2" fill="#000"/>
<circle cx="68.34" cy="1124.3" r="3.2" fill="#000"/>
<circle cx="77.85" cy="1122.11" r="3.2" fill="#000"/>
<circle cx="87.35" cy="1121.34" r="3.2" fill="#000"/>
<circle cx="96.86" cy="1122.77" r="3.2" fill="#000"/>
<circle cx="106.37" cy="1122.77" r="3.2" fill="#000"/>
<circle cx="115.87" cy="1122.58" r="3.2" fill="#000"/>
<rect x="46" y="1084.1" width="73.2" height="23.8" fill="#e2e0e1"/>
<text x="82.6" y="1100.9" font-size="12.4" text-anchor="middle" fill="#1a1a1a" stroke="#1a1a1a">Wisconsin</text>
<text x="38.6" y="1173.73" font-size="12.4" text-anchor="end" fill="#4d4d4d" stroke="#4d4d4d">240</text>
<text x="38.6" y="1154.62" font-size="12.4" text-anchor="end" fill="#4d4d4d" stroke="#4d4d4d">260</text>
<text x="38.6" y="1135.51" font-size="12.4" text-anchor="end" fill="#4d4d4d" stroke="#4d4d4d">280</text>
<text x="38.6" y="1116.4" font-size="12.4" text-anchor="end" fill="#4d4d4d" stroke="#4d4d4d">300</text>
<path d="M46 1168.83h-3.8M46 1149.72h-3.8M46 1130.61h-3.8M46 1111.5h-3.8" stroke="#333" stroke-width="1.4" fill="none"/>
<text x="58.83" y="1186.7" font-size="12.4" text-anchor="middle" fill="#4d4d4d" stroke="#4d4d4d">2</text>
<text x="77.85" y="1186.7" font-size="12.4" text-anchor="middle" fill="#4d4d4d" stroke="#4d4d4d">4</text>
<text x="96.86" y="1186.7" font-size="12.4" text-anchor="middle" fill="#4d4d4d" stroke="#4d4d4d">6</text>
<text x="115.87" y="1186.7" font-size="12.4" text-anchor="middle" fill="#4d4d4d" stroke="#4d4d4d">8</text>
<path d="M58.83 1170.3v3.8M77.85 1170.3v3.8M96.86 1170.3v3.8M115.87 1170.3v3.8" stroke="#333" stroke-width="1.4" fill="none"/>
</g>
<g>
<rect x="126.7" y="1107.9" width="73.2" height="62.4" fill="#f2f2f2"/>
<path d="M126.7 1159.28h73.2M126.7 1140.16h73.2M126.7 1121.06h73.2M130.03 1107.9v62.4M149.04 1107.9v62.4M168.05 1107.9v62.4M187.07 1107.9v62.4" stroke="#fff" stroke-width="0.7" fill="none"/>
<path d="M126.7 1168.83h73.2M126.7 1149.72h73.2M126.7 1130.61h73.2M126.7 1111.5h73.2M139.53 1107.9v62.4M158.55 1107.9v62.4M177.56 1107.9v62.4M196.57 1107.9v62.4" stroke="#fff" stroke-width="1.4" fill="none"/>
<polyline points="130.03,1127.36 139.53,1125.93 149.04,1124.49 158.55,1123.25 168.05,1122.58 177.56,1122.3 187.07,1123.83 196.57,1123.54" fill="none" stroke="#000" stroke-width="1.5" stroke-linejoin="round"/>
<polyline points="130.03,1127.36 139.53,1128.79 149.04,1123.54 158.55,1123.06 168.05,1121.34 177.56,1122.11 187.07,1125.74 196.57,1122.77" fill="none" stroke="#000" stroke-width="1.5" stroke-linejoin="round"/>
<circle cx="130.03" cy="1127.36" r="3.2" fill="#000"/>
<circle cx="139.53" cy="1128.79" r="3.2" fill="#000"/>
<circle cx="149.04" cy="1123.54" r="3.2" fill="#000"/>
<circle cx="158.55" cy="1123.06" r="3.2" fill="#000"/>
<circle cx="168.05" cy="1121.34" r="3.2" fill="#000"/>
<circle cx="177.56" cy="1122.11" r="3.2" fill="#000"/>
<circle cx="187.07" cy="1125.74" r="3.2" fill="#000"/>
<circle cx="196.57" cy="1122.77" r="3.2" fill="#000"/>
<rect x="126.7" y="1084.1" width="73.2" height="23.8" fill="#e2e0e1"/>
<text x="163.3" y="1100.9" font-size="12.4" text-anchor="middle" fill="#1a1a1a" stroke="#1a1a1a">Wyoming</text>
<text x="139.53" y="1186.7" font-size="12.4" text-anchor="middle" fill="#4d4d4d" stroke="#4d4d4d">2</text>
<text x="158.55" y="1186.7" font-size="12.4" text-anchor="middle" fill="#4d4d4d" stroke="#4d4d4d">4</text>
<text x="177.56" y="1186.7" font-size="12.4" text-anchor="middle" fill="#4d4d4d" stroke="#4d4d4d">6</text>
<text x="196.57" y="1186.7" font-size="12.4" text-anchor="middle" fill="#4d4d4d" stroke="#4d4d4d">8</text>
<path d="M139.53 1170.3v3.8M158.55 1170.3v3.8M177.56 1170.3v3.8M196.57 1170.3v3.8" stroke="#333" stroke-width="1.4" fill="none"/>
</g>
<text x="365.2" y="1202.8" font-size="15" text-anchor="middle" fill="#000" stroke="#000">time</text>
<text transform="translate(11.4 858.5) rotate(-90)" font-size="15" text-anchor="middle" fill="#000" stroke="#000">MathBoy03</text>
</g>
</svg></body></html>
